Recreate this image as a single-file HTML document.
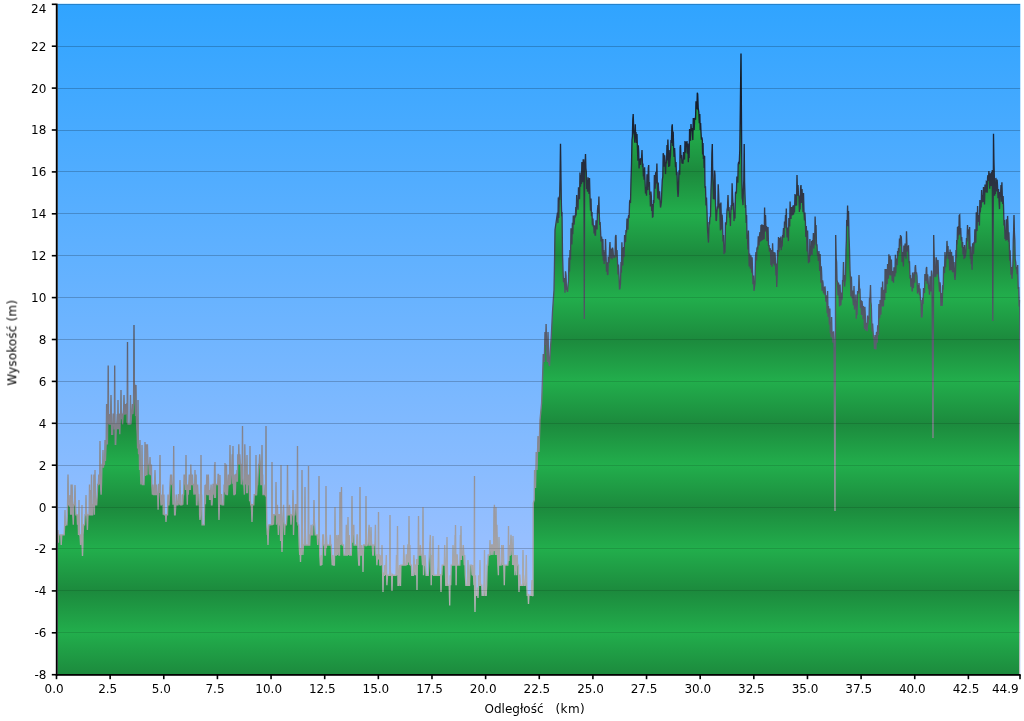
<!DOCTYPE html>
<html lang="pl">
<head>
<meta charset="utf-8">
<title>Profil wysokości</title>
<style>
html,body{margin:0;padding:0;background:#fff;}
body{width:1024px;height:721px;overflow:hidden;}
svg{display:block;}
.t{font-family:"DejaVu Sans","Liberation Sans",sans-serif;font-size:12px;fill:#000;}
</style>
</head>
<body>
<svg width="1024" height="721" viewBox="0 0 1024 721">
<defs>
<linearGradient id="sky" gradientUnits="userSpaceOnUse" x1="0" y1="4" x2="0" y2="675">
<stop offset="0" stop-color="#30a4ff"/><stop offset="1" stop-color="#b0c6ff"/></linearGradient>
<linearGradient id="grn" gradientUnits="userSpaceOnUse" x1="0" y1="507.10" x2="0" y2="465.20" spreadMethod="reflect">
<stop offset="0" stop-color="#1c8a3d"/><stop offset="1" stop-color="#22ae4c"/></linearGradient>
<linearGradient id="ln" gradientUnits="userSpaceOnUse" x1="0" y1="4" x2="0" y2="675">
<stop offset="0" stop-color="#06101c"/><stop offset="0.2" stop-color="#1c2434"/><stop offset="0.38" stop-color="#444a58"/><stop offset="0.515" stop-color="#5c6070"/><stop offset="0.65" stop-color="#86868f"/><stop offset="0.74" stop-color="#99979d"/><stop offset="1" stop-color="#c2c2c2"/></linearGradient>
<clipPath id="cp"><rect x="57.6" y="3.8" width="962.7" height="670.8"/></clipPath>
</defs>
<rect x="0" y="0" width="1024" height="721" fill="#fff"/>
<rect x="57.6" y="3.8" width="962.7" height="670.8" fill="url(#sky)"/>
<g clip-path="url(#cp)">
<rect x="57.6" y="632" width="962.7" height="1" fill="#000" fill-opacity="0.09"/>
<rect x="57.6" y="590" width="962.7" height="1" fill="#000" fill-opacity="0.09"/>
<rect x="57.6" y="548" width="962.7" height="1" fill="#000" fill-opacity="0.09"/>
<rect x="57.6" y="507" width="962.7" height="1" fill="#000" fill-opacity="0.09"/>
<rect x="57.6" y="465" width="962.7" height="1" fill="#000" fill-opacity="0.09"/>
<rect x="57.6" y="423" width="962.7" height="1" fill="#000" fill-opacity="0.09"/>
<rect x="57.6" y="381" width="962.7" height="1" fill="#000" fill-opacity="0.09"/>
<rect x="57.6" y="339" width="962.7" height="1" fill="#000" fill-opacity="0.09"/>
<rect x="57.6" y="297" width="962.7" height="1" fill="#000" fill-opacity="0.09"/>
<rect x="57.6" y="255" width="962.7" height="1" fill="#000" fill-opacity="0.09"/>
<rect x="57.6" y="213" width="962.7" height="1" fill="#000" fill-opacity="0.09"/>
<rect x="57.6" y="171" width="962.7" height="1" fill="#000" fill-opacity="0.09"/>
<rect x="57.6" y="130" width="962.7" height="1" fill="#000" fill-opacity="0.09"/>
<rect x="57.6" y="88" width="962.7" height="1" fill="#000" fill-opacity="0.09"/>
<rect x="57.6" y="46" width="962.7" height="1" fill="#000" fill-opacity="0.09"/>
<rect x="57.6" y="4" width="962.7" height="1" fill="#000" fill-opacity="0.09"/>
<path d="M57.6 674.6 L57.6 542.8 L58.0 530.0 L58.4 542.8 L58.7 534.9 L59.1 534.9 L59.5 534.9 L60.1 534.9 L60.8 534.9 L61.2 545.0 L61.8 534.9 L62.3 534.9 L62.7 534.9 L63.2 534.9 L63.6 534.9 L64.2 534.9 L64.6 526.0 L65.0 510.0 L65.4 526.0 L65.4 524.8 L65.8 524.8 L66.3 524.8 L66.9 524.8 L67.4 514.7 L68.0 474.5 L68.5 504.7 L69.1 504.7 L69.5 504.7 L69.6 506.7 L70.0 495.0 L70.4 506.7 L70.6 514.8 L71.1 484.5 L71.7 514.8 L72.1 484.5 L72.8 514.8 L73.3 524.8 L73.8 504.7 L74.2 504.7 L74.6 501.0 L75.0 485.0 L75.4 501.0 L75.9 514.8 L76.5 514.8 L77.0 514.7 L77.5 524.8 L78.0 514.7 L78.5 534.9 L78.6 529.0 L79.0 500.0 L79.4 529.0 L79.6 534.9 L80.0 534.9 L80.6 545.0 L81.0 534.9 L81.5 534.9 L81.6 539.3 L82.0 505.0 L82.1 545.0 L82.5 556.0 L82.9 545.0 L83.0 534.9 L83.6 524.8 L84.1 524.8 L84.5 524.8 L85.1 514.7 L85.6 514.7 L85.6 511.0 L86.0 495.0 L86.4 511.0 L86.8 514.8 L87.4 529.9 L88.0 514.8 L88.6 514.8 L89.1 514.8 L89.5 484.5 L89.6 509.2 L90.0 490.0 L90.4 509.2 L90.5 514.8 L91.0 514.8 L91.5 474.5 L92.1 514.8 L92.6 514.8 L93.0 504.7 L93.5 504.7 L93.9 474.5 L94.4 514.8 L94.6 493.0 L95.0 470.0 L95.4 493.0 L95.7 504.7 L96.2 504.7 L96.7 504.7 L97.3 494.6 L97.7 484.5 L98.3 484.5 L98.8 474.5 L99.3 484.5 L99.6 478.0 L100.0 441.0 L100.4 478.0 L100.5 484.5 L101.1 494.6 L101.5 484.5 L102.0 464.4 L102.5 464.4 L102.6 467.8 L103.0 450.0 L103.4 467.8 L103.7 464.4 L104.4 464.4 L104.6 461.0 L105.0 440.0 L105.4 461.0 L105.7 454.3 L106.1 444.3 L106.6 404.0 L106.6 444.6 L107.0 420.0 L107.4 444.6 L107.7 424.1 L107.8 420.0 L108.2 365.5 L108.6 420.0 L108.7 424.1 L109.2 414.1 L109.8 424.1 L110.2 424.1 L110.6 414.3 L111.0 395.0 L111.4 414.3 L111.7 434.2 L112.2 434.2 L112.6 434.2 L113.2 414.1 L113.6 414.1 L114.2 424.1 L114.3 429.5 L114.7 365.5 L115.1 429.5 L115.3 444.3 L115.7 444.3 L116.4 424.1 L116.8 424.1 L117.3 414.1 L117.6 429.3 L118.0 400.0 L118.4 429.3 L118.7 414.1 L119.2 414.1 L119.8 434.2 L120.3 414.1 L120.6 419.3 L121.0 390.0 L121.4 419.3 L121.7 414.1 L122.1 414.1 L122.6 424.1 L123.2 414.0 L123.6 409.3 L124.0 395.0 L124.4 409.3 L124.5 414.0 L125.0 414.0 L125.5 404.0 L126.0 414.1 L126.6 404.0 L127.0 404.0 L127.1 422.7 L127.5 342.0 L127.9 422.7 L128.1 424.1 L128.5 424.1 L129.0 424.1 L129.4 424.1 L129.9 424.1 L130.1 417.7 L130.5 395.0 L130.9 417.7 L130.9 424.1 L131.5 414.1 L131.9 414.0 L132.5 404.0 L132.9 414.0 L133.5 404.0 L133.6 396.0 L134.0 325.0 L134.4 396.0 L134.6 383.8 L135.2 404.0 L135.6 414.1 L135.6 416.0 L136.0 385.0 L136.4 416.0 L136.6 424.1 L137.2 434.2 L137.6 448.4 L138.0 400.0 L138.4 448.4 L138.6 454.3 L139.2 444.3 L139.6 470.1 L140.0 440.0 L140.4 470.1 L140.9 484.5 L141.4 474.5 L141.6 479.8 L142.0 445.0 L142.4 479.8 L142.4 484.5 L142.8 484.5 L143.4 484.5 L144.0 484.5 L144.6 464.4 L144.6 476.0 L145.0 442.0 L145.4 476.0 L145.6 474.5 L146.0 444.3 L146.5 474.5 L147.0 474.5 L147.4 444.3 L148.1 464.4 L148.5 464.4 L148.9 464.4 L149.4 474.5 L149.6 468.0 L150.0 457.0 L150.4 468.0 L150.4 474.5 L150.9 474.5 L151.4 464.4 L151.8 484.5 L152.4 494.6 L152.9 484.5 L153.5 494.6 L154.0 494.6 L154.5 494.6 L154.6 481.0 L155.0 470.0 L155.4 481.0 L155.5 494.6 L156.1 494.6 L156.6 484.5 L157.2 494.6 L157.7 494.6 L158.1 509.7 L158.8 484.5 L159.3 484.5 L159.6 493.0 L160.0 455.0 L160.4 493.0 L160.4 494.6 L161.0 504.7 L161.4 504.7 L161.9 494.6 L162.4 504.7 L162.9 484.5 L163.3 514.8 L163.9 494.6 L164.5 514.8 L165.1 514.8 L165.6 515.0 L166.0 522.0 L166.4 515.0 L166.5 514.8 L166.9 514.8 L167.5 514.8 L168.0 494.6 L168.4 504.7 L168.9 504.7 L169.5 494.6 L170.0 484.5 L170.6 474.5 L171.1 484.5 L171.5 474.5 L171.9 484.5 L172.5 484.5 L173.0 504.7 L173.3 492.2 L173.7 446.0 L174.1 492.2 L174.2 494.6 L174.6 514.8 L175.2 514.8 L175.8 504.7 L176.3 494.6 L176.9 504.7 L177.4 504.7 L177.9 504.7 L178.4 494.6 L178.9 494.6 L179.5 504.7 L179.6 495.6 L180.0 480.0 L180.4 495.6 L180.4 504.7 L181.0 504.7 L181.4 504.7 L181.9 504.7 L182.3 494.6 L182.8 504.7 L183.2 494.6 L183.6 494.6 L184.1 474.5 L184.7 484.5 L185.2 474.5 L185.6 490.0 L186.0 455.0 L186.4 490.0 L186.7 484.5 L187.3 504.7 L187.8 484.5 L188.2 494.6 L188.8 484.5 L189.3 474.5 L189.6 490.0 L190.0 478.0 L190.4 490.0 L190.8 464.4 L191.4 484.5 L191.9 484.5 L192.4 474.5 L192.8 484.5 L193.4 484.5 L194.0 494.6 L194.5 484.5 L194.6 490.0 L195.0 470.0 L195.4 490.0 L195.5 494.6 L196.1 474.5 L196.5 504.7 L197.0 504.7 L197.6 484.5 L198.1 494.6 L198.7 494.6 L199.1 504.7 L199.5 504.7 L199.6 515.0 L200.0 520.0 L200.4 515.0 L200.6 484.5 L200.6 509.7 L201.0 455.0 L201.4 509.7 L201.6 494.6 L202.1 524.8 L202.7 524.8 L203.2 524.8 L203.7 524.8 L204.2 524.8 L204.6 504.3 L205.0 485.0 L205.4 504.3 L205.6 484.5 L206.2 494.6 L206.8 474.5 L207.4 494.6 L207.8 494.6 L208.3 474.5 L208.9 494.6 L209.5 494.6 L209.6 500.0 L210.0 490.0 L210.4 500.0 L210.5 494.6 L211.1 484.5 L211.5 504.7 L212.0 504.7 L212.6 494.6 L213.0 484.5 L213.5 484.5 L214.1 494.6 L214.6 464.4 L214.6 498.0 L215.0 462.0 L215.4 498.0 L215.6 484.5 L216.1 484.5 L216.6 484.5 L217.2 484.5 L217.7 484.5 L218.1 474.5 L218.5 474.5 L218.6 503.6 L219.0 520.0 L219.4 503.6 L219.5 484.5 L219.6 500.0 L220.0 475.0 L220.4 500.0 L220.7 504.7 L221.2 494.6 L221.6 494.6 L222.1 504.7 L222.6 504.7 L223.1 504.7 L223.6 504.7 L224.1 484.5 L224.6 491.7 L225.0 463.0 L225.4 491.7 L225.9 494.6 L226.4 464.4 L227.0 494.6 L227.4 494.6 L228.0 484.5 L228.4 474.5 L229.0 484.5 L229.4 484.5 L229.6 473.0 L230.0 445.0 L230.4 473.0 L230.5 484.5 L231.1 474.5 L231.6 474.5 L232.2 454.3 L232.6 483.8 L233.0 446.0 L233.4 483.8 L233.9 494.6 L234.4 494.6 L234.8 474.5 L235.3 494.6 L235.9 474.5 L236.3 474.5 L236.6 481.8 L237.0 470.0 L237.4 481.8 L237.8 454.3 L238.4 464.4 L238.8 444.3 L239.3 464.4 L239.8 454.3 L240.3 464.4 L240.8 464.4 L241.3 484.5 L241.8 474.5 L242.1 478.0 L242.5 426.0 L242.9 478.0 L243.3 484.5 L243.9 484.5 L244.4 494.6 L244.8 444.3 L245.4 474.5 L245.8 484.5 L246.3 464.4 L246.6 493.3 L247.0 455.0 L247.4 493.3 L247.9 474.5 L248.3 484.5 L248.9 484.5 L249.3 474.5 L249.6 501.3 L250.0 446.0 L250.4 501.3 L250.8 504.7 L251.3 504.7 L251.6 510.7 L252.0 522.0 L252.4 510.7 L252.4 504.7 L252.8 504.7 L253.3 504.7 L253.8 504.7 L254.2 494.6 L254.6 494.6 L255.0 494.6 L255.4 494.6 L255.6 495.4 L256.0 455.0 L256.4 495.4 L256.6 494.6 L257.2 484.5 L257.6 484.5 L258.1 474.5 L258.7 464.4 L259.2 464.4 L259.7 454.3 L260.3 464.4 L260.9 484.5 L261.5 484.5 L261.6 482.8 L262.0 445.0 L262.4 482.8 L262.6 474.5 L263.0 494.6 L263.5 494.6 L264.1 494.6 L264.6 494.6 L265.1 484.5 L265.6 496.5 L266.0 426.0 L266.4 496.5 L266.8 524.8 L267.3 534.9 L267.6 532.4 L268.0 545.0 L268.4 532.4 L268.9 524.8 L269.4 524.8 L270.0 524.8 L270.6 524.8 L271.1 524.8 L271.5 524.8 L271.6 525.2 L272.0 462.0 L272.4 525.2 L272.6 514.7 L273.1 514.7 L273.6 524.8 L274.0 514.7 L274.6 514.8 L275.0 514.8 L275.5 514.8 L275.6 513.5 L276.0 482.0 L276.4 513.5 L276.4 524.8 L277.0 514.7 L277.4 504.7 L278.0 524.8 L278.4 534.9 L279.0 514.7 L279.5 514.7 L280.0 524.8 L280.4 524.8 L280.6 541.0 L281.0 465.0 L281.4 541.0 L281.5 524.8 L281.6 539.9 L282.0 552.0 L282.4 539.9 L282.5 524.8 L283.0 514.7 L283.6 504.7 L284.1 524.8 L284.6 534.9 L285.0 524.8 L285.5 524.8 L285.9 524.8 L286.4 524.8 L287.0 514.8 L287.1 508.0 L287.5 465.0 L287.9 508.0 L288.0 514.8 L288.5 514.8 L288.9 514.8 L289.5 504.7 L290.0 514.8 L290.6 514.8 L291.0 524.8 L291.6 514.8 L292.1 514.8 L292.5 514.8 L292.6 510.5 L293.0 490.0 L293.4 510.5 L293.5 534.9 L294.1 514.8 L294.5 514.8 L294.9 514.8 L295.4 504.7 L295.9 504.7 L296.4 504.7 L296.9 514.7 L297.1 522.2 L297.5 446.0 L297.9 522.2 L298.0 524.8 L298.6 524.8 L299.2 545.0 L299.7 555.0 L300.1 547.9 L300.5 562.0 L300.9 547.9 L301.3 555.0 L301.6 537.4 L302.0 470.0 L302.4 537.4 L302.9 555.0 L303.4 545.0 L304.0 545.0 L304.4 545.0 L304.6 533.1 L305.0 487.0 L305.4 533.1 L305.8 545.0 L306.4 545.0 L306.9 545.0 L307.5 545.0 L308.1 545.0 L308.1 538.0 L308.5 466.0 L308.9 538.0 L309.1 545.0 L309.7 545.0 L310.1 534.9 L310.7 534.9 L311.1 524.8 L311.7 534.9 L312.1 534.9 L312.6 534.9 L313.0 524.8 L313.6 524.8 L313.6 521.6 L314.0 500.0 L314.4 521.6 L314.7 524.8 L315.2 534.9 L315.8 534.9 L316.3 534.9 L316.7 534.9 L317.2 534.9 L317.7 545.0 L318.1 534.9 L318.6 538.5 L319.0 476.0 L319.4 538.5 L319.8 555.0 L320.4 565.1 L320.9 565.1 L321.5 555.0 L321.9 565.1 L322.4 545.0 L322.8 534.9 L323.4 534.9 L323.9 545.0 L324.4 545.0 L324.9 555.0 L325.4 555.0 L325.6 548.2 L326.0 486.0 L326.4 548.2 L326.4 534.9 L327.0 545.0 L327.6 545.0 L328.0 545.0 L328.6 545.0 L329.2 545.0 L329.7 545.0 L330.2 534.9 L330.7 545.0 L331.2 545.0 L331.7 555.0 L332.2 565.1 L332.8 555.0 L333.3 565.1 L333.9 565.1 L334.4 565.1 L334.6 552.8 L335.0 507.0 L335.4 552.8 L335.5 545.0 L335.9 555.0 L336.4 555.0 L336.8 534.9 L337.4 555.0 L338.0 545.0 L338.5 534.9 L339.0 555.0 L339.5 555.0 L339.6 542.1 L340.0 492.0 L340.4 542.1 L340.6 545.0 L341.1 540.6 L341.5 487.0 L341.9 540.6 L342.3 545.0 L342.9 545.0 L343.5 545.0 L344.0 555.0 L344.4 555.0 L344.8 555.0 L345.3 555.0 L345.7 555.0 L346.3 524.8 L346.9 555.0 L347.4 555.0 L347.6 544.9 L348.0 517.0 L348.4 544.9 L348.8 555.0 L349.2 534.9 L349.7 555.0 L350.2 555.0 L350.7 555.0 L351.3 555.0 L351.6 542.7 L352.0 496.0 L352.4 542.7 L352.8 524.8 L353.3 534.9 L353.8 524.8 L354.2 545.0 L354.8 545.0 L355.5 545.0 L356.0 545.0 L356.6 545.0 L357.0 534.9 L357.4 534.9 L357.8 545.0 L358.2 555.0 L358.8 565.1 L359.4 565.1 L359.6 548.2 L360.0 487.0 L360.4 548.2 L360.8 555.0 L361.3 555.0 L361.8 545.0 L362.4 555.0 L362.6 552.8 L363.0 572.0 L363.4 552.8 L363.7 545.0 L364.3 545.0 L364.7 545.0 L365.4 545.0 L365.6 545.5 L366.0 496.0 L366.4 545.5 L366.9 545.0 L367.5 545.0 L368.0 545.0 L368.5 534.9 L369.1 524.8 L369.6 545.0 L370.2 545.0 L370.6 540.0 L371.0 527.0 L371.4 540.0 L371.7 545.0 L372.2 545.0 L372.8 555.0 L373.3 555.0 L373.9 545.0 L374.3 545.0 L374.9 545.0 L375.4 524.8 L375.9 555.0 L376.5 555.0 L376.9 565.1 L377.5 555.0 L378.0 555.0 L378.1 559.5 L378.5 512.0 L378.9 559.5 L378.9 555.0 L379.4 555.0 L379.9 565.1 L380.5 565.1 L381.0 555.0 L381.6 565.1 L382.0 545.0 L382.5 565.1 L382.6 572.6 L383.0 592.0 L383.4 572.6 L383.5 575.2 L383.9 575.2 L384.4 575.2 L384.8 565.1 L385.4 575.2 L385.9 565.1 L386.3 555.0 L386.9 585.2 L387.5 575.2 L388.0 575.2 L388.4 575.2 L388.9 575.2 L389.4 575.2 L389.6 570.7 L390.0 515.0 L390.4 570.7 L390.8 575.2 L391.4 575.2 L391.6 574.7 L392.0 591.0 L392.4 574.7 L392.8 575.2 L393.2 575.2 L393.7 575.2 L394.3 575.2 L394.8 575.2 L395.4 575.2 L396.0 575.2 L396.5 555.0 L397.0 575.2 L397.1 569.0 L397.5 526.0 L397.9 569.0 L398.0 585.2 L398.4 585.2 L399.0 575.2 L399.6 565.1 L400.0 585.2 L400.5 585.2 L400.9 565.1 L401.4 565.1 L401.8 565.1 L402.3 565.1 L402.8 565.1 L403.4 565.1 L403.8 545.0 L404.4 565.1 L404.9 565.1 L405.5 565.1 L405.9 565.1 L406.3 555.0 L406.8 555.0 L407.3 565.1 L407.9 545.0 L408.3 545.0 L408.6 562.4 L409.0 516.0 L409.4 562.4 L409.5 565.1 L409.9 545.0 L410.4 565.1 L410.8 565.1 L411.4 565.1 L411.8 575.2 L412.4 575.2 L412.8 575.2 L413.3 575.2 L413.9 555.0 L414.4 565.1 L415.0 575.2 L415.5 565.1 L416.0 565.1 L416.4 575.2 L416.6 559.0 L417.0 590.0 L417.4 559.0 L417.9 565.1 L418.1 553.5 L418.5 516.0 L418.9 553.5 L419.0 555.0 L419.5 555.0 L420.0 555.0 L420.4 545.0 L421.0 555.0 L421.4 555.0 L421.9 555.0 L422.5 565.1 L422.6 557.8 L423.0 507.0 L423.4 557.8 L423.5 575.2 L424.0 565.1 L424.6 565.1 L425.0 555.0 L425.6 565.1 L426.1 575.2 L426.6 575.2 L427.1 575.2 L427.7 575.2 L428.2 575.2 L428.7 565.1 L429.3 555.0 L429.8 545.0 L430.3 534.9 L430.8 555.0 L431.2 585.2 L431.6 555.0 L432.2 565.1 L432.6 575.2 L432.6 564.4 L433.0 536.0 L433.4 564.4 L433.7 575.2 L434.2 575.2 L434.7 575.2 L435.1 575.2 L435.6 575.2 L436.0 575.2 L436.5 575.2 L437.0 575.2 L437.6 575.2 L438.1 565.1 L438.6 545.0 L439.0 575.2 L439.6 575.2 L440.1 575.2 L440.6 574.5 L441.0 592.0 L441.4 574.5 L441.8 575.2 L442.2 565.1 L442.8 565.1 L443.4 565.1 L443.8 565.1 L444.3 565.1 L444.7 545.0 L445.3 565.1 L445.8 585.2 L446.3 585.2 L446.6 568.7 L447.0 537.0 L447.4 568.7 L447.8 585.2 L448.3 585.2 L448.8 585.2 L449.2 585.2 L449.7 605.4 L450.1 575.2 L450.7 585.2 L451.2 565.1 L451.7 565.1 L452.1 565.1 L452.6 565.1 L453.0 545.0 L453.6 565.1 L454.0 565.1 L454.6 565.1 L455.1 534.9 L455.1 560.0 L455.5 525.0 L455.9 560.0 L456.1 585.2 L456.6 555.0 L457.2 555.0 L457.7 565.1 L458.2 565.1 L458.6 565.1 L459.2 565.1 L459.8 565.1 L460.4 534.9 L460.6 560.0 L461.0 526.0 L461.4 560.0 L461.4 545.0 L461.8 555.0 L462.4 555.0 L462.9 555.0 L463.3 545.0 L463.8 555.0 L464.3 565.1 L464.7 555.0 L465.3 575.2 L465.9 585.2 L466.3 585.2 L466.9 585.2 L467.5 585.2 L467.6 577.0 L468.0 560.0 L468.4 577.0 L468.5 585.2 L468.9 585.2 L469.5 585.2 L470.1 565.1 L470.5 565.1 L471.1 565.1 L471.6 565.1 L472.1 575.2 L472.6 565.1 L473.0 575.2 L473.5 575.2 L474.0 585.2 L474.1 584.1 L474.5 476.0 L474.6 590.0 L475.0 612.0 L475.4 590.0 L475.5 575.2 L476.0 595.3 L476.5 595.3 L477.0 595.3 L477.5 595.3 L477.6 587.5 L478.0 598.0 L478.4 587.5 L478.6 575.2 L479.1 585.2 L479.6 585.2 L479.6 581.8 L480.0 560.0 L480.4 581.8 L480.7 585.2 L481.2 585.2 L481.7 585.2 L482.1 595.3 L482.6 595.3 L483.1 595.3 L483.7 595.3 L484.1 577.5 L484.5 550.0 L484.9 577.5 L485.3 595.3 L485.7 595.3 L486.2 595.3 L486.7 585.2 L487.2 565.1 L487.7 565.1 L488.2 555.0 L488.6 555.0 L489.1 555.0 L489.6 555.0 L489.6 551.0 L490.0 540.0 L490.4 551.0 L490.7 545.0 L491.2 555.0 L491.7 545.0 L492.3 545.0 L492.9 555.0 L493.5 545.0 L493.6 551.0 L494.0 507.0 L494.4 551.0 L494.4 504.7 L494.9 545.0 L495.4 555.0 L495.6 551.0 L496.0 507.0 L496.4 551.0 L496.4 555.0 L496.9 524.8 L497.5 555.0 L497.9 565.1 L498.4 575.2 L498.6 556.0 L499.0 537.0 L499.4 556.0 L499.5 565.1 L500.1 565.1 L500.6 565.1 L501.1 565.1 L501.7 545.0 L502.3 555.0 L502.7 565.1 L503.3 545.0 L503.8 565.1 L504.3 585.2 L504.8 565.1 L505.2 565.1 L505.7 565.1 L506.2 565.1 L506.7 565.1 L507.3 565.1 L507.8 565.1 L508.1 561.0 L508.5 526.0 L508.9 561.0 L509.2 545.0 L509.7 555.0 L510.2 555.0 L510.6 545.0 L511.0 534.9 L511.5 545.0 L512.0 555.0 L512.5 545.0 L512.6 565.0 L513.0 536.0 L513.4 565.0 L513.6 555.0 L514.0 565.1 L514.4 555.0 L514.9 575.2 L515.5 555.0 L516.1 565.1 L516.7 575.2 L517.1 555.0 L517.6 565.1 L518.1 565.1 L518.5 565.1 L518.6 577.0 L519.0 592.0 L519.4 577.0 L519.4 575.2 L519.9 575.2 L520.5 585.2 L521.0 585.2 L521.5 585.2 L522.1 585.2 L522.6 585.2 L522.6 575.7 L523.0 550.0 L523.4 575.7 L523.6 575.2 L524.1 585.2 L524.7 585.2 L525.2 585.2 L525.8 575.2 L526.3 555.0 L526.8 585.2 L527.2 595.3 L527.8 595.3 L528.1 595.0 L528.5 604.0 L528.9 595.0 L529.2 595.3 L529.7 595.3 L530.3 595.3 L530.8 595.3 L531.3 595.3 L531.6 590.0 L532.0 580.0 L532.4 590.0 L532.5 595.3 L533.0 596.0 L533.3 503.0 L534.2 500.0 L534.6 470.0 L535.5 488.0 L536.2 452.0 L537.0 470.0 L538.0 436.0 L539.0 452.0 L540.0 420.0 L541.6 403.0 L542.4 382.0 L543.3 354.0 L544.3 362.0 L545.0 332.0 L545.6 345.0 L546.1 324.0 L546.7 350.0 L547.4 362.0 L548.0 332.0 L548.7 362.0 L549.5 366.0 L550.3 350.0 L551.3 336.0 L552.5 312.0 L554.0 290.0 L554.4 270.0 L555.0 230.0 L557.5 212.5 L557.9 223.1 L558.3 197.4 L558.8 218.1 L559.2 196.5 L559.6 200.0 L560.0 179.9 L560.5 143.7 L561.4 205.0 L561.7 216.6 L562.0 212.0 L562.5 254.1 L563.0 270.0 L563.5 282.1 L564.0 278.0 L564.5 282.0 L565.0 292.8 L565.5 271.3 L566.0 275.0 L566.5 290.1 L567.0 289.0 L567.5 292.0 L568.0 285.0 L568.5 281.3 L569.0 257.4 L569.5 271.8 L570.0 250.0 L570.5 259.8 L571.0 228.2 L571.5 240.0 L571.9 244.5 L572.4 222.7 L572.8 234.2 L573.3 215.5 L573.7 222.0 L574.1 224.7 L574.6 217.3 L575.0 215.0 L575.4 217.5 L575.8 207.0 L576.2 215.6 L576.7 194.9 L577.1 207.5 L577.5 200.0 L578.0 209.8 L578.5 187.3 L579.0 190.0 L579.5 199.3 L580.0 172.4 L580.5 186.8 L581.0 175.0 L581.4 184.1 L581.9 161.9 L582.3 178.0 L582.8 182.1 L583.2 160.0 L583.7 160.0 L584.0 166.0 L584.3 319.0 L584.6 170.0 L585.0 167.0 L585.5 154.0 L585.9 168.0 L586.3 172.0 L586.6 189.1 L587.0 180.0 L587.5 191.7 L588.0 177.3 L588.5 185.0 L589.0 194.0 L589.5 177.9 L590.0 197.0 L590.5 210.8 L591.0 198.5 L591.5 216.3 L592.0 212.0 L592.4 225.3 L592.9 218.5 L593.3 226.8 L593.7 225.0 L594.1 233.4 L594.6 225.6 L595.0 235.0 L595.5 235.7 L596.0 220.3 L596.5 222.0 L597.0 229.4 L597.5 210.7 L598.0 205.0 L598.4 213.4 L598.9 196.6 L599.3 215.0 L599.7 225.0 L600.1 222.0 L600.5 230.0 L601.0 241.4 L601.5 236.7 L602.0 240.0 L602.4 255.6 L602.9 239.0 L603.3 260.6 L603.7 250.0 L604.2 264.1 L604.6 252.0 L605.1 261.1 L605.5 238.9 L606.0 255.0 L606.5 271.7 L607.0 262.3 L607.5 275.0 L607.9 274.4 L608.3 257.6 L608.7 258.0 L609.1 262.7 L609.6 247.3 L610.0 242.0 L610.5 258.4 L611.0 248.7 L611.5 252.0 L612.0 259.4 L612.5 247.6 L613.0 250.0 L613.5 257.7 L614.0 255.3 L614.5 258.0 L615.0 255.4 L615.5 236.6 L616.0 235.0 L616.5 257.1 L617.0 250.0 L617.5 262.0 L618.0 274.4 L618.5 264.6 L619.0 275.0 L619.5 289.6 L620.0 288.0 L620.5 283.1 L621.0 262.0 L621.4 272.8 L621.9 242.2 L622.3 255.0 L622.8 265.4 L623.2 249.7 L623.7 247.0 L624.1 257.1 L624.6 235.0 L625.0 238.0 L625.5 242.1 L626.0 230.0 L626.5 232.4 L627.0 218.6 L627.5 222.0 L627.9 229.7 L628.3 217.3 L628.7 215.0 L629.1 218.1 L629.6 202.0 L630.0 200.0 L630.5 203.1 L631.0 180.0 L631.5 165.0 L632.0 140.0 L632.4 136.4 L632.8 119.6 L633.2 114.0 L633.8 132.6 L634.3 135.0 L634.8 142.7 L635.3 124.3 L635.6 138.2 L636.0 132.0 L636.5 143.0 L637.0 133.9 L637.5 150.0 L637.9 160.7 L638.3 145.3 L638.7 152.0 L639.1 168.4 L639.6 158.7 L640.0 162.0 L640.5 165.0 L641.0 158.0 L641.5 159.0 L642.0 150.0 L642.5 165.6 L643.0 165.0 L643.4 176.6 L643.7 172.0 L644.1 179.7 L644.6 167.3 L645.0 180.0 L645.5 193.6 L646.0 187.0 L646.5 195.7 L647.0 174.3 L647.5 183.0 L647.9 190.1 L648.3 168.0 L648.7 165.0 L649.0 186.6 L649.4 182.0 L649.7 195.1 L650.0 192.0 L650.4 206.4 L650.9 191.6 L651.3 196.0 L651.7 211.1 L652.1 204.0 L652.5 217.0 L653.0 216.6 L653.5 200.0 L653.9 203.1 L654.4 174.9 L654.8 185.0 L655.2 188.7 L655.6 173.3 L656.0 172.0 L656.4 183.4 L656.9 163.6 L657.3 182.0 L657.8 198.4 L658.2 182.6 L658.7 192.0 L659.1 199.7 L659.6 191.3 L660.0 200.0 L660.5 207.5 L661.0 205.0 L661.4 201.7 L661.9 188.3 L662.3 180.0 L662.8 176.7 L663.2 153.3 L663.7 155.0 L664.1 166.7 L664.6 155.3 L665.0 160.0 L665.5 174.1 L666.0 162.0 L666.5 163.6 L667.0 145.0 L667.4 160.4 L667.9 139.6 L668.3 152.0 L668.7 167.1 L669.1 150.0 L669.6 166.1 L670.0 160.0 L670.5 155.0 L671.0 140.0 L671.4 142.8 L671.9 126.5 L672.3 124.3 L672.8 146.0 L673.2 131.4 L673.7 150.0 L674.1 157.0 L674.6 148.0 L675.0 156.0 L675.5 167.1 L676.0 162.0 L676.5 175.1 L677.0 172.0 L677.5 189.5 L678.0 197.0 L678.4 193.0 L678.9 173.0 L679.3 170.0 L679.7 174.8 L680.1 147.3 L680.5 145.0 L681.0 158.1 L681.5 155.0 L682.0 163.5 L682.5 162.0 L683.0 163.7 L683.5 152.3 L684.0 152.0 L684.5 159.6 L685.0 141.0 L685.5 152.6 L686.0 142.0 L686.5 146.5 L687.0 141.0 L687.4 153.8 L687.9 143.5 L688.3 162.3 L688.7 152.0 L689.1 158.1 L689.6 128.9 L690.0 140.0 L690.5 140.1 L691.0 124.0 L691.4 131.0 L691.9 128.0 L692.3 130.0 L692.8 140.1 L693.3 118.0 L693.8 121.0 L694.2 130.1 L694.6 119.0 L695.0 118.0 L695.5 119.7 L696.0 101.3 L696.5 108.0 L696.9 108.4 L697.3 92.8 L697.7 94.2 L698.2 108.1 L698.8 112.0 L699.3 123.1 L699.8 114.0 L700.2 130.1 L700.6 123.0 L701.0 132.0 L701.4 139.7 L701.9 137.3 L702.3 140.0 L702.6 154.6 L703.0 143.0 L703.4 159.1 L703.7 155.0 L704.2 168.0 L704.6 155.9 L705.0 187.1 L705.5 187.0 L706.0 205.4 L706.5 197.6 L707.0 212.0 L707.5 229.5 L708.0 237.0 L708.5 242.6 L709.0 222.0 L709.5 224.5 L710.0 217.0 L710.5 216.6 L711.0 190.0 L711.4 179.7 L711.9 153.3 L712.3 144.0 L712.6 167.0 L713.0 180.0 L713.4 199.1 L713.7 192.0 L714.1 199.4 L714.6 170.6 L715.0 175.0 L715.5 202.5 L716.0 220.0 L716.4 221.0 L716.9 212.0 L717.3 208.0 L717.8 208.7 L718.2 184.2 L718.7 195.0 L719.1 207.4 L719.6 203.6 L720.0 217.0 L720.4 230.4 L720.9 202.6 L721.3 218.0 L721.7 229.4 L722.1 214.6 L722.5 222.0 L723.0 241.6 L723.5 235.0 L724.0 254.1 L724.5 247.0 L725.0 252.8 L725.5 222.3 L726.0 225.0 L726.5 222.5 L727.0 210.0 L727.5 207.5 L728.0 195.0 L728.5 211.1 L729.0 207.0 L729.5 217.0 L730.0 217.0 L730.4 226.1 L730.9 209.0 L731.3 205.0 L731.7 209.7 L732.1 183.2 L732.5 195.0 L733.0 204.5 L733.5 204.0 L734.0 221.1 L734.5 212.0 L735.0 218.4 L735.5 192.6 L736.0 192.0 L736.4 192.4 L736.9 176.6 L737.3 178.0 L737.8 182.7 L738.2 164.3 L738.7 162.0 L739.2 164.1 L739.8 150.0 L741.0 53.4 L741.9 180.0 L742.2 198.1 L742.6 200.0 L743.0 205.1 L743.4 190.0 L743.8 180.1 L744.2 144.0 L744.6 182.6 L745.0 195.0 L745.4 208.1 L745.7 205.0 L746.2 223.1 L746.6 215.0 L747.0 239.1 L747.5 237.0 L747.9 249.4 L748.4 230.6 L748.8 250.0 L749.2 266.4 L749.6 253.6 L750.0 260.0 L750.4 268.7 L750.9 255.3 L751.3 262.0 L751.7 272.7 L752.1 257.3 L752.5 270.0 L753.0 284.3 L753.5 275.5 L754.0 290.8 L754.5 287.0 L755.0 283.4 L755.5 257.6 L756.0 252.0 L756.5 260.4 L756.9 248.7 L757.4 247.0 L757.8 249.7 L758.3 236.3 L758.7 240.0 L759.1 245.4 L759.6 234.7 L760.0 232.0 L760.5 241.6 L761.0 225.0 L761.5 240.8 L761.9 224.3 L762.4 233.0 L762.8 240.1 L763.3 225.0 L763.7 230.0 L764.2 239.3 L764.6 207.4 L765.0 231.8 L765.5 215.0 L766.0 230.6 L766.5 226.0 L767.0 241.1 L767.5 230.0 L768.0 227.0 L768.5 246.1 L769.0 245.0 L769.5 251.7 L770.0 248.3 L770.5 250.0 L770.9 265.1 L771.3 249.9 L771.7 265.0 L772.1 266.7 L772.6 243.2 L773.0 255.0 L773.5 263.6 L774.0 252.0 L774.5 265.4 L775.0 252.6 L775.5 262.0 L775.9 275.4 L776.3 263.6 L776.7 287.0 L777.2 276.6 L777.6 250.0 L778.0 256.6 L778.5 237.0 L779.0 252.1 L779.5 238.0 L780.0 243.0 L780.4 247.8 L780.9 236.5 L781.3 250.3 L781.7 242.0 L782.2 246.6 L782.6 235.0 L783.0 236.5 L783.5 228.0 L784.0 237.8 L784.5 221.5 L785.0 228.3 L785.5 215.0 L785.9 224.4 L786.3 208.6 L786.7 228.0 L787.1 237.4 L787.6 227.6 L788.0 232.0 L788.4 241.1 L788.9 218.0 L789.3 220.0 L789.7 226.4 L790.1 201.6 L790.5 215.0 L791.0 219.0 L791.5 207.0 L792.0 212.0 L792.5 215.3 L793.0 205.5 L793.5 214.8 L794.0 205.0 L794.5 212.6 L795.0 194.0 L795.5 205.6 L796.0 195.0 L796.5 205.6 L797.0 174.9 L797.5 195.6 L798.0 185.0 L798.5 195.5 L799.0 196.0 L799.4 212.1 L799.7 202.0 L800.1 209.4 L800.6 187.6 L801.0 185.0 L801.5 203.1 L802.0 189.0 L802.5 200.0 L803.0 212.1 L803.5 192.9 L804.0 212.0 L804.5 220.4 L804.9 212.6 L805.4 222.0 L805.8 237.1 L806.3 226.0 L806.7 237.0 L807.1 251.4 L807.6 230.6 L808.0 250.0 L808.5 263.1 L809.0 260.0 L809.5 262.0 L809.9 238.9 L810.3 256.0 L810.8 248.0 L811.2 254.1 L811.6 241.0 L812.1 255.1 L812.5 240.0 L813.0 244.5 L813.4 233.0 L813.8 248.6 L814.3 238.0 L814.7 244.8 L815.1 216.4 L815.6 233.3 L816.0 225.0 L816.5 245.1 L817.0 245.0 L817.5 255.0 L818.0 255.0 L818.4 261.0 L818.9 251.0 L819.3 258.0 L819.7 271.1 L820.1 253.9 L820.5 267.0 L820.9 282.8 L821.3 266.3 L821.7 275.0 L822.1 290.8 L822.6 280.3 L823.0 283.0 L823.5 293.1 L824.0 287.0 L824.5 294.7 L825.0 286.3 L825.5 295.0 L825.9 301.7 L826.3 295.3 L826.7 300.0 L827.2 313.1 L827.6 290.9 L828.1 317.1 L828.5 306.0 L829.0 315.0 L829.4 324.8 L829.9 308.4 L830.3 333.3 L830.7 322.0 L831.2 337.6 L831.6 316.9 L832.0 334.5 L832.5 332.0 L833.0 342.7 L833.5 331.3 L834.0 340.0 L835.0 511.0 L835.7 235.0 L836.2 258.6 L836.6 262.0 L837.0 280.1 L837.5 282.0 L838.0 295.4 L838.5 282.6 L839.0 292.0 L839.5 306.4 L840.0 284.6 L840.5 296.0 L840.9 305.4 L841.3 292.6 L841.7 300.0 L842.2 298.1 L842.6 280.0 L843.0 281.1 L843.5 262.0 L843.9 281.6 L844.3 275.0 L844.6 286.6 L845.0 282.0 L845.5 279.1 L846.0 250.0 L846.4 240.0 L846.7 220.0 L847.2 222.8 L847.6 205.4 L848.0 226.3 L848.5 211.0 L849.0 235.5 L849.5 250.0 L850.0 270.0 L850.5 280.0 L850.9 296.4 L851.4 276.6 L851.8 290.0 L852.2 298.4 L852.6 290.6 L853.0 300.0 L853.5 305.5 L854.0 285.9 L854.5 309.6 L855.0 302.0 L855.4 308.3 L855.9 294.4 L856.3 318.8 L856.7 307.0 L857.1 315.1 L857.6 291.0 L858.0 292.0 L858.5 293.6 L859.0 275.0 L859.5 290.6 L860.0 290.0 L860.5 308.1 L861.0 300.0 L861.5 315.1 L862.0 301.0 L862.5 306.0 L863.0 319.1 L863.5 306.0 L864.0 315.0 L864.5 329.1 L864.9 306.9 L865.4 318.0 L865.8 330.4 L866.3 322.7 L866.7 325.0 L867.2 331.3 L867.6 315.5 L868.0 324.8 L868.5 318.0 L869.0 319.8 L869.5 298.5 L870.0 298.3 L870.5 285.0 L870.9 301.7 L871.3 305.3 L871.7 320.0 L872.1 331.4 L872.6 323.6 L873.0 330.0 L873.5 338.5 L874.0 337.0 L874.5 349.1 L875.0 335.0 L875.5 343.0 L875.9 349.4 L876.4 332.6 L876.8 332.0 L877.2 342.8 L877.6 327.3 L878.0 325.0 L878.4 335.1 L878.9 303.9 L879.3 316.0 L879.7 318.0 L880.1 299.9 L880.5 307.0 L880.9 314.7 L881.4 287.2 L881.8 300.0 L882.2 306.4 L882.6 281.6 L883.0 295.0 L883.4 306.4 L883.9 291.7 L884.3 290.0 L884.7 300.1 L885.1 268.9 L885.5 281.0 L885.9 293.1 L886.4 268.9 L886.8 278.0 L887.2 284.1 L887.6 263.9 L888.0 272.0 L888.4 278.7 L888.9 254.2 L889.3 268.0 L889.7 275.1 L890.1 255.9 L890.5 265.0 L890.9 275.4 L891.4 259.6 L891.8 272.0 L892.2 281.1 L892.6 271.0 L893.0 275.0 L893.5 282.7 L894.0 267.3 L894.5 268.0 L894.9 276.5 L895.4 254.7 L895.8 273.3 L896.3 258.6 L896.7 260.0 L897.2 265.1 L897.6 251.0 L898.0 256.0 L898.5 248.0 L899.0 252.8 L899.5 238.5 L900.0 246.3 L900.5 235.0 L900.9 243.7 L901.3 236.3 L901.7 246.0 L902.1 262.1 L902.6 252.0 L903.0 255.0 L903.4 266.4 L903.9 245.6 L904.3 250.0 L904.7 256.4 L905.1 243.6 L905.5 245.0 L906.0 258.8 L906.5 231.2 L907.0 247.0 L907.5 251.7 L908.0 246.3 L908.5 246.0 L909.0 262.1 L909.5 262.0 L910.0 278.6 L910.5 275.0 L910.9 286.7 L911.4 278.3 L911.8 280.0 L912.2 291.4 L912.6 272.6 L913.0 284.0 L913.4 288.1 L913.9 276.0 L914.3 272.0 L914.7 282.8 L915.1 267.3 L915.5 265.0 L916.0 273.7 L916.5 272.3 L917.0 276.0 L917.5 293.6 L918.0 285.0 L918.5 292.1 L919.0 283.0 L919.5 295.3 L920.0 288.5 L920.5 300.8 L921.0 300.0 L921.4 316.6 L921.8 317.0 L922.2 315.6 L922.6 298.0 L923.1 304.1 L923.5 288.0 L924.0 292.0 L924.5 293.0 L924.9 273.9 L925.4 280.0 L925.8 280.7 L926.3 268.3 L926.7 267.0 L927.1 283.8 L927.6 274.3 L928.0 278.0 L928.5 287.5 L929.0 287.0 L929.5 294.7 L930.0 276.3 L930.5 280.0 L931.0 291.4 L931.5 270.6 L932.0 275.0 L933.0 438.0 L933.7 235.0 L934.2 256.6 L934.6 258.0 L935.0 277.1 L935.5 270.0 L935.9 276.7 L936.3 257.3 L936.7 266.0 L937.1 274.1 L937.6 262.0 L938.0 260.0 L938.5 276.0 L939.0 282.0 L939.5 291.7 L940.0 282.3 L940.5 287.0 L940.9 306.1 L941.3 293.0 L941.7 305.0 L942.2 305.1 L942.8 285.0 L943.2 289.4 L943.6 267.6 L944.0 268.0 L944.5 273.1 L945.0 251.9 L945.5 267.1 L946.0 256.0 L946.5 258.5 L947.0 240.9 L947.5 253.5 L948.0 246.0 L948.4 259.1 L948.9 252.0 L949.3 255.0 L949.7 270.4 L950.1 249.6 L950.5 262.0 L951.0 270.1 L951.5 251.9 L952.0 262.0 L952.5 272.1 L953.0 256.0 L953.5 272.1 L954.0 262.0 L954.5 276.0 L955.0 280.0 L955.5 273.1 L956.0 250.0 L956.4 258.1 L956.7 240.0 L957.1 244.6 L957.5 227.0 L957.9 239.6 L958.3 226.0 L958.8 235.4 L959.2 215.6 L959.7 215.0 L960.2 234.6 L960.7 228.0 L961.2 240.6 L961.7 237.0 L962.2 247.6 L962.6 242.0 L963.0 254.6 L963.5 247.0 L964.0 259.1 L964.5 245.0 L965.0 258.0 L965.5 255.0 L966.0 251.5 L966.5 238.0 L967.0 241.6 L967.5 225.0 L967.9 233.7 L968.4 229.3 L968.8 236.0 L969.2 249.1 L969.6 226.9 L970.0 245.0 L970.4 258.8 L970.9 246.5 L971.3 264.3 L971.7 260.0 L972.1 269.8 L972.6 243.3 L973.0 250.0 L973.5 254.1 L974.0 242.0 L974.5 243.7 L974.9 229.3 L975.4 232.0 L975.8 242.8 L976.3 212.2 L976.7 225.0 L977.1 231.1 L977.6 205.9 L978.0 219.0 L978.5 222.0 L979.0 215.0 L979.4 225.6 L979.9 199.9 L980.3 212.5 L980.7 205.0 L981.2 207.5 L981.6 189.9 L982.0 202.5 L982.5 195.0 L983.0 202.1 L983.5 187.0 L984.0 192.0 L984.5 204.4 L985.0 184.6 L985.5 190.0 L985.9 192.4 L986.4 181.6 L986.8 182.0 L987.2 192.8 L987.6 177.3 L988.0 175.0 L988.4 181.0 L988.9 171.0 L989.3 178.0 L989.7 188.7 L990.1 173.3 L990.5 180.0 L991.0 186.1 L991.5 172.0 L991.9 184.1 L992.3 170.0 L992.8 321.0 L993.5 133.7 L993.9 159.4 L994.3 175.0 L994.6 195.6 L995.0 190.0 L995.4 194.0 L995.9 177.9 L996.3 187.0 L996.7 191.4 L997.1 179.6 L997.5 185.0 L998.0 198.1 L998.5 189.0 L999.0 200.0 L999.5 209.1 L1000.0 192.0 L1000.5 196.6 L1001.0 185.0 L1001.4 201.8 L1001.9 182.3 L1002.3 196.0 L1002.7 204.0 L1003.1 196.0 L1003.5 205.0 L1004.0 225.6 L1004.5 220.0 L1005.0 239.1 L1005.5 232.0 L1005.9 240.7 L1006.4 219.3 L1006.8 228.0 L1007.2 240.1 L1007.6 215.9 L1008.0 225.0 L1008.4 241.7 L1008.9 232.3 L1009.3 245.0 L1009.7 260.7 L1010.1 250.3 L1010.5 262.0 L1011.0 274.6 L1011.5 267.0 L1012.0 278.6 L1012.5 270.0 L1012.9 265.1 L1013.3 240.0 L1013.6 232.5 L1014.0 215.0 L1014.4 232.5 L1014.8 240.0 L1015.2 259.1 L1015.7 262.0 L1016.2 269.5 L1016.7 267.0 L1017.2 274.1 L1017.7 265.0 L1018.2 289.1 L1018.7 287.0 L1019.2 306.6 L1019.6 300.0 L1019.6 674.6 Z" fill="url(#grn)" stroke="none"/>
<path d="M57.6 542.8 L58.0 530.0 L58.4 542.8 L58.7 534.9 L59.1 534.9 L59.5 534.9 L60.1 534.9 L60.8 534.9 L61.2 545.0 L61.8 534.9 L62.3 534.9 L62.7 534.9 L63.2 534.9 L63.6 534.9 L64.2 534.9 L64.6 526.0 L65.0 510.0 L65.4 526.0 L65.4 524.8 L65.8 524.8 L66.3 524.8 L66.9 524.8 L67.4 514.7 L68.0 474.5 L68.5 504.7 L69.1 504.7 L69.5 504.7 L69.6 506.7 L70.0 495.0 L70.4 506.7 L70.6 514.8 L71.1 484.5 L71.7 514.8 L72.1 484.5 L72.8 514.8 L73.3 524.8 L73.8 504.7 L74.2 504.7 L74.6 501.0 L75.0 485.0 L75.4 501.0 L75.9 514.8 L76.5 514.8 L77.0 514.7 L77.5 524.8 L78.0 514.7 L78.5 534.9 L78.6 529.0 L79.0 500.0 L79.4 529.0 L79.6 534.9 L80.0 534.9 L80.6 545.0 L81.0 534.9 L81.5 534.9 L81.6 539.3 L82.0 505.0 L82.1 545.0 L82.5 556.0 L82.9 545.0 L83.0 534.9 L83.6 524.8 L84.1 524.8 L84.5 524.8 L85.1 514.7 L85.6 514.7 L85.6 511.0 L86.0 495.0 L86.4 511.0 L86.8 514.8 L87.4 529.9 L88.0 514.8 L88.6 514.8 L89.1 514.8 L89.5 484.5 L89.6 509.2 L90.0 490.0 L90.4 509.2 L90.5 514.8 L91.0 514.8 L91.5 474.5 L92.1 514.8 L92.6 514.8 L93.0 504.7 L93.5 504.7 L93.9 474.5 L94.4 514.8 L94.6 493.0 L95.0 470.0 L95.4 493.0 L95.7 504.7 L96.2 504.7 L96.7 504.7 L97.3 494.6 L97.7 484.5 L98.3 484.5 L98.8 474.5 L99.3 484.5 L99.6 478.0 L100.0 441.0 L100.4 478.0 L100.5 484.5 L101.1 494.6 L101.5 484.5 L102.0 464.4 L102.5 464.4 L102.6 467.8 L103.0 450.0 L103.4 467.8 L103.7 464.4 L104.4 464.4 L104.6 461.0 L105.0 440.0 L105.4 461.0 L105.7 454.3 L106.1 444.3 L106.6 404.0 L106.6 444.6 L107.0 420.0 L107.4 444.6 L107.7 424.1 L107.8 420.0 L108.2 365.5 L108.6 420.0 L108.7 424.1 L109.2 414.1 L109.8 424.1 L110.2 424.1 L110.6 414.3 L111.0 395.0 L111.4 414.3 L111.7 434.2 L112.2 434.2 L112.6 434.2 L113.2 414.1 L113.6 414.1 L114.2 424.1 L114.3 429.5 L114.7 365.5 L115.1 429.5 L115.3 444.3 L115.7 444.3 L116.4 424.1 L116.8 424.1 L117.3 414.1 L117.6 429.3 L118.0 400.0 L118.4 429.3 L118.7 414.1 L119.2 414.1 L119.8 434.2 L120.3 414.1 L120.6 419.3 L121.0 390.0 L121.4 419.3 L121.7 414.1 L122.1 414.1 L122.6 424.1 L123.2 414.0 L123.6 409.3 L124.0 395.0 L124.4 409.3 L124.5 414.0 L125.0 414.0 L125.5 404.0 L126.0 414.1 L126.6 404.0 L127.0 404.0 L127.1 422.7 L127.5 342.0 L127.9 422.7 L128.1 424.1 L128.5 424.1 L129.0 424.1 L129.4 424.1 L129.9 424.1 L130.1 417.7 L130.5 395.0 L130.9 417.7 L130.9 424.1 L131.5 414.1 L131.9 414.0 L132.5 404.0 L132.9 414.0 L133.5 404.0 L133.6 396.0 L134.0 325.0 L134.4 396.0 L134.6 383.8 L135.2 404.0 L135.6 414.1 L135.6 416.0 L136.0 385.0 L136.4 416.0 L136.6 424.1 L137.2 434.2 L137.6 448.4 L138.0 400.0 L138.4 448.4 L138.6 454.3 L139.2 444.3 L139.6 470.1 L140.0 440.0 L140.4 470.1 L140.9 484.5 L141.4 474.5 L141.6 479.8 L142.0 445.0 L142.4 479.8 L142.4 484.5 L142.8 484.5 L143.4 484.5 L144.0 484.5 L144.6 464.4 L144.6 476.0 L145.0 442.0 L145.4 476.0 L145.6 474.5 L146.0 444.3 L146.5 474.5 L147.0 474.5 L147.4 444.3 L148.1 464.4 L148.5 464.4 L148.9 464.4 L149.4 474.5 L149.6 468.0 L150.0 457.0 L150.4 468.0 L150.4 474.5 L150.9 474.5 L151.4 464.4 L151.8 484.5 L152.4 494.6 L152.9 484.5 L153.5 494.6 L154.0 494.6 L154.5 494.6 L154.6 481.0 L155.0 470.0 L155.4 481.0 L155.5 494.6 L156.1 494.6 L156.6 484.5 L157.2 494.6 L157.7 494.6 L158.1 509.7 L158.8 484.5 L159.3 484.5 L159.6 493.0 L160.0 455.0 L160.4 493.0 L160.4 494.6 L161.0 504.7 L161.4 504.7 L161.9 494.6 L162.4 504.7 L162.9 484.5 L163.3 514.8 L163.9 494.6 L164.5 514.8 L165.1 514.8 L165.6 515.0 L166.0 522.0 L166.4 515.0 L166.5 514.8 L166.9 514.8 L167.5 514.8 L168.0 494.6 L168.4 504.7 L168.9 504.7 L169.5 494.6 L170.0 484.5 L170.6 474.5 L171.1 484.5 L171.5 474.5 L171.9 484.5 L172.5 484.5 L173.0 504.7 L173.3 492.2 L173.7 446.0 L174.1 492.2 L174.2 494.6 L174.6 514.8 L175.2 514.8 L175.8 504.7 L176.3 494.6 L176.9 504.7 L177.4 504.7 L177.9 504.7 L178.4 494.6 L178.9 494.6 L179.5 504.7 L179.6 495.6 L180.0 480.0 L180.4 495.6 L180.4 504.7 L181.0 504.7 L181.4 504.7 L181.9 504.7 L182.3 494.6 L182.8 504.7 L183.2 494.6 L183.6 494.6 L184.1 474.5 L184.7 484.5 L185.2 474.5 L185.6 490.0 L186.0 455.0 L186.4 490.0 L186.7 484.5 L187.3 504.7 L187.8 484.5 L188.2 494.6 L188.8 484.5 L189.3 474.5 L189.6 490.0 L190.0 478.0 L190.4 490.0 L190.8 464.4 L191.4 484.5 L191.9 484.5 L192.4 474.5 L192.8 484.5 L193.4 484.5 L194.0 494.6 L194.5 484.5 L194.6 490.0 L195.0 470.0 L195.4 490.0 L195.5 494.6 L196.1 474.5 L196.5 504.7 L197.0 504.7 L197.6 484.5 L198.1 494.6 L198.7 494.6 L199.1 504.7 L199.5 504.7 L199.6 515.0 L200.0 520.0 L200.4 515.0 L200.6 484.5 L200.6 509.7 L201.0 455.0 L201.4 509.7 L201.6 494.6 L202.1 524.8 L202.7 524.8 L203.2 524.8 L203.7 524.8 L204.2 524.8 L204.6 504.3 L205.0 485.0 L205.4 504.3 L205.6 484.5 L206.2 494.6 L206.8 474.5 L207.4 494.6 L207.8 494.6 L208.3 474.5 L208.9 494.6 L209.5 494.6 L209.6 500.0 L210.0 490.0 L210.4 500.0 L210.5 494.6 L211.1 484.5 L211.5 504.7 L212.0 504.7 L212.6 494.6 L213.0 484.5 L213.5 484.5 L214.1 494.6 L214.6 464.4 L214.6 498.0 L215.0 462.0 L215.4 498.0 L215.6 484.5 L216.1 484.5 L216.6 484.5 L217.2 484.5 L217.7 484.5 L218.1 474.5 L218.5 474.5 L218.6 503.6 L219.0 520.0 L219.4 503.6 L219.5 484.5 L219.6 500.0 L220.0 475.0 L220.4 500.0 L220.7 504.7 L221.2 494.6 L221.6 494.6 L222.1 504.7 L222.6 504.7 L223.1 504.7 L223.6 504.7 L224.1 484.5 L224.6 491.7 L225.0 463.0 L225.4 491.7 L225.9 494.6 L226.4 464.4 L227.0 494.6 L227.4 494.6 L228.0 484.5 L228.4 474.5 L229.0 484.5 L229.4 484.5 L229.6 473.0 L230.0 445.0 L230.4 473.0 L230.5 484.5 L231.1 474.5 L231.6 474.5 L232.2 454.3 L232.6 483.8 L233.0 446.0 L233.4 483.8 L233.9 494.6 L234.4 494.6 L234.8 474.5 L235.3 494.6 L235.9 474.5 L236.3 474.5 L236.6 481.8 L237.0 470.0 L237.4 481.8 L237.8 454.3 L238.4 464.4 L238.8 444.3 L239.3 464.4 L239.8 454.3 L240.3 464.4 L240.8 464.4 L241.3 484.5 L241.8 474.5 L242.1 478.0 L242.5 426.0 L242.9 478.0 L243.3 484.5 L243.9 484.5 L244.4 494.6 L244.8 444.3 L245.4 474.5 L245.8 484.5 L246.3 464.4 L246.6 493.3 L247.0 455.0 L247.4 493.3 L247.9 474.5 L248.3 484.5 L248.9 484.5 L249.3 474.5 L249.6 501.3 L250.0 446.0 L250.4 501.3 L250.8 504.7 L251.3 504.7 L251.6 510.7 L252.0 522.0 L252.4 510.7 L252.4 504.7 L252.8 504.7 L253.3 504.7 L253.8 504.7 L254.2 494.6 L254.6 494.6 L255.0 494.6 L255.4 494.6 L255.6 495.4 L256.0 455.0 L256.4 495.4 L256.6 494.6 L257.2 484.5 L257.6 484.5 L258.1 474.5 L258.7 464.4 L259.2 464.4 L259.7 454.3 L260.3 464.4 L260.9 484.5 L261.5 484.5 L261.6 482.8 L262.0 445.0 L262.4 482.8 L262.6 474.5 L263.0 494.6 L263.5 494.6 L264.1 494.6 L264.6 494.6 L265.1 484.5 L265.6 496.5 L266.0 426.0 L266.4 496.5 L266.8 524.8 L267.3 534.9 L267.6 532.4 L268.0 545.0 L268.4 532.4 L268.9 524.8 L269.4 524.8 L270.0 524.8 L270.6 524.8 L271.1 524.8 L271.5 524.8 L271.6 525.2 L272.0 462.0 L272.4 525.2 L272.6 514.7 L273.1 514.7 L273.6 524.8 L274.0 514.7 L274.6 514.8 L275.0 514.8 L275.5 514.8 L275.6 513.5 L276.0 482.0 L276.4 513.5 L276.4 524.8 L277.0 514.7 L277.4 504.7 L278.0 524.8 L278.4 534.9 L279.0 514.7 L279.5 514.7 L280.0 524.8 L280.4 524.8 L280.6 541.0 L281.0 465.0 L281.4 541.0 L281.5 524.8 L281.6 539.9 L282.0 552.0 L282.4 539.9 L282.5 524.8 L283.0 514.7 L283.6 504.7 L284.1 524.8 L284.6 534.9 L285.0 524.8 L285.5 524.8 L285.9 524.8 L286.4 524.8 L287.0 514.8 L287.1 508.0 L287.5 465.0 L287.9 508.0 L288.0 514.8 L288.5 514.8 L288.9 514.8 L289.5 504.7 L290.0 514.8 L290.6 514.8 L291.0 524.8 L291.6 514.8 L292.1 514.8 L292.5 514.8 L292.6 510.5 L293.0 490.0 L293.4 510.5 L293.5 534.9 L294.1 514.8 L294.5 514.8 L294.9 514.8 L295.4 504.7 L295.9 504.7 L296.4 504.7 L296.9 514.7 L297.1 522.2 L297.5 446.0 L297.9 522.2 L298.0 524.8 L298.6 524.8 L299.2 545.0 L299.7 555.0 L300.1 547.9 L300.5 562.0 L300.9 547.9 L301.3 555.0 L301.6 537.4 L302.0 470.0 L302.4 537.4 L302.9 555.0 L303.4 545.0 L304.0 545.0 L304.4 545.0 L304.6 533.1 L305.0 487.0 L305.4 533.1 L305.8 545.0 L306.4 545.0 L306.9 545.0 L307.5 545.0 L308.1 545.0 L308.1 538.0 L308.5 466.0 L308.9 538.0 L309.1 545.0 L309.7 545.0 L310.1 534.9 L310.7 534.9 L311.1 524.8 L311.7 534.9 L312.1 534.9 L312.6 534.9 L313.0 524.8 L313.6 524.8 L313.6 521.6 L314.0 500.0 L314.4 521.6 L314.7 524.8 L315.2 534.9 L315.8 534.9 L316.3 534.9 L316.7 534.9 L317.2 534.9 L317.7 545.0 L318.1 534.9 L318.6 538.5 L319.0 476.0 L319.4 538.5 L319.8 555.0 L320.4 565.1 L320.9 565.1 L321.5 555.0 L321.9 565.1 L322.4 545.0 L322.8 534.9 L323.4 534.9 L323.9 545.0 L324.4 545.0 L324.9 555.0 L325.4 555.0 L325.6 548.2 L326.0 486.0 L326.4 548.2 L326.4 534.9 L327.0 545.0 L327.6 545.0 L328.0 545.0 L328.6 545.0 L329.2 545.0 L329.7 545.0 L330.2 534.9 L330.7 545.0 L331.2 545.0 L331.7 555.0 L332.2 565.1 L332.8 555.0 L333.3 565.1 L333.9 565.1 L334.4 565.1 L334.6 552.8 L335.0 507.0 L335.4 552.8 L335.5 545.0 L335.9 555.0 L336.4 555.0 L336.8 534.9 L337.4 555.0 L338.0 545.0 L338.5 534.9 L339.0 555.0 L339.5 555.0 L339.6 542.1 L340.0 492.0 L340.4 542.1 L340.6 545.0 L341.1 540.6 L341.5 487.0 L341.9 540.6 L342.3 545.0 L342.9 545.0 L343.5 545.0 L344.0 555.0 L344.4 555.0 L344.8 555.0 L345.3 555.0 L345.7 555.0 L346.3 524.8 L346.9 555.0 L347.4 555.0 L347.6 544.9 L348.0 517.0 L348.4 544.9 L348.8 555.0 L349.2 534.9 L349.7 555.0 L350.2 555.0 L350.7 555.0 L351.3 555.0 L351.6 542.7 L352.0 496.0 L352.4 542.7 L352.8 524.8 L353.3 534.9 L353.8 524.8 L354.2 545.0 L354.8 545.0 L355.5 545.0 L356.0 545.0 L356.6 545.0 L357.0 534.9 L357.4 534.9 L357.8 545.0 L358.2 555.0 L358.8 565.1 L359.4 565.1 L359.6 548.2 L360.0 487.0 L360.4 548.2 L360.8 555.0 L361.3 555.0 L361.8 545.0 L362.4 555.0 L362.6 552.8 L363.0 572.0 L363.4 552.8 L363.7 545.0 L364.3 545.0 L364.7 545.0 L365.4 545.0 L365.6 545.5 L366.0 496.0 L366.4 545.5 L366.9 545.0 L367.5 545.0 L368.0 545.0 L368.5 534.9 L369.1 524.8 L369.6 545.0 L370.2 545.0 L370.6 540.0 L371.0 527.0 L371.4 540.0 L371.7 545.0 L372.2 545.0 L372.8 555.0 L373.3 555.0 L373.9 545.0 L374.3 545.0 L374.9 545.0 L375.4 524.8 L375.9 555.0 L376.5 555.0 L376.9 565.1 L377.5 555.0 L378.0 555.0 L378.1 559.5 L378.5 512.0 L378.9 559.5 L378.9 555.0 L379.4 555.0 L379.9 565.1 L380.5 565.1 L381.0 555.0 L381.6 565.1 L382.0 545.0 L382.5 565.1 L382.6 572.6 L383.0 592.0 L383.4 572.6 L383.5 575.2 L383.9 575.2 L384.4 575.2 L384.8 565.1 L385.4 575.2 L385.9 565.1 L386.3 555.0 L386.9 585.2 L387.5 575.2 L388.0 575.2 L388.4 575.2 L388.9 575.2 L389.4 575.2 L389.6 570.7 L390.0 515.0 L390.4 570.7 L390.8 575.2 L391.4 575.2 L391.6 574.7 L392.0 591.0 L392.4 574.7 L392.8 575.2 L393.2 575.2 L393.7 575.2 L394.3 575.2 L394.8 575.2 L395.4 575.2 L396.0 575.2 L396.5 555.0 L397.0 575.2 L397.1 569.0 L397.5 526.0 L397.9 569.0 L398.0 585.2 L398.4 585.2 L399.0 575.2 L399.6 565.1 L400.0 585.2 L400.5 585.2 L400.9 565.1 L401.4 565.1 L401.8 565.1 L402.3 565.1 L402.8 565.1 L403.4 565.1 L403.8 545.0 L404.4 565.1 L404.9 565.1 L405.5 565.1 L405.9 565.1 L406.3 555.0 L406.8 555.0 L407.3 565.1 L407.9 545.0 L408.3 545.0 L408.6 562.4 L409.0 516.0 L409.4 562.4 L409.5 565.1 L409.9 545.0 L410.4 565.1 L410.8 565.1 L411.4 565.1 L411.8 575.2 L412.4 575.2 L412.8 575.2 L413.3 575.2 L413.9 555.0 L414.4 565.1 L415.0 575.2 L415.5 565.1 L416.0 565.1 L416.4 575.2 L416.6 559.0 L417.0 590.0 L417.4 559.0 L417.9 565.1 L418.1 553.5 L418.5 516.0 L418.9 553.5 L419.0 555.0 L419.5 555.0 L420.0 555.0 L420.4 545.0 L421.0 555.0 L421.4 555.0 L421.9 555.0 L422.5 565.1 L422.6 557.8 L423.0 507.0 L423.4 557.8 L423.5 575.2 L424.0 565.1 L424.6 565.1 L425.0 555.0 L425.6 565.1 L426.1 575.2 L426.6 575.2 L427.1 575.2 L427.7 575.2 L428.2 575.2 L428.7 565.1 L429.3 555.0 L429.8 545.0 L430.3 534.9 L430.8 555.0 L431.2 585.2 L431.6 555.0 L432.2 565.1 L432.6 575.2 L432.6 564.4 L433.0 536.0 L433.4 564.4 L433.7 575.2 L434.2 575.2 L434.7 575.2 L435.1 575.2 L435.6 575.2 L436.0 575.2 L436.5 575.2 L437.0 575.2 L437.6 575.2 L438.1 565.1 L438.6 545.0 L439.0 575.2 L439.6 575.2 L440.1 575.2 L440.6 574.5 L441.0 592.0 L441.4 574.5 L441.8 575.2 L442.2 565.1 L442.8 565.1 L443.4 565.1 L443.8 565.1 L444.3 565.1 L444.7 545.0 L445.3 565.1 L445.8 585.2 L446.3 585.2 L446.6 568.7 L447.0 537.0 L447.4 568.7 L447.8 585.2 L448.3 585.2 L448.8 585.2 L449.2 585.2 L449.7 605.4 L450.1 575.2 L450.7 585.2 L451.2 565.1 L451.7 565.1 L452.1 565.1 L452.6 565.1 L453.0 545.0 L453.6 565.1 L454.0 565.1 L454.6 565.1 L455.1 534.9 L455.1 560.0 L455.5 525.0 L455.9 560.0 L456.1 585.2 L456.6 555.0 L457.2 555.0 L457.7 565.1 L458.2 565.1 L458.6 565.1 L459.2 565.1 L459.8 565.1 L460.4 534.9 L460.6 560.0 L461.0 526.0 L461.4 560.0 L461.4 545.0 L461.8 555.0 L462.4 555.0 L462.9 555.0 L463.3 545.0 L463.8 555.0 L464.3 565.1 L464.7 555.0 L465.3 575.2 L465.9 585.2 L466.3 585.2 L466.9 585.2 L467.5 585.2 L467.6 577.0 L468.0 560.0 L468.4 577.0 L468.5 585.2 L468.9 585.2 L469.5 585.2 L470.1 565.1 L470.5 565.1 L471.1 565.1 L471.6 565.1 L472.1 575.2 L472.6 565.1 L473.0 575.2 L473.5 575.2 L474.0 585.2 L474.1 584.1 L474.5 476.0 L474.6 590.0 L475.0 612.0 L475.4 590.0 L475.5 575.2 L476.0 595.3 L476.5 595.3 L477.0 595.3 L477.5 595.3 L477.6 587.5 L478.0 598.0 L478.4 587.5 L478.6 575.2 L479.1 585.2 L479.6 585.2 L479.6 581.8 L480.0 560.0 L480.4 581.8 L480.7 585.2 L481.2 585.2 L481.7 585.2 L482.1 595.3 L482.6 595.3 L483.1 595.3 L483.7 595.3 L484.1 577.5 L484.5 550.0 L484.9 577.5 L485.3 595.3 L485.7 595.3 L486.2 595.3 L486.7 585.2 L487.2 565.1 L487.7 565.1 L488.2 555.0 L488.6 555.0 L489.1 555.0 L489.6 555.0 L489.6 551.0 L490.0 540.0 L490.4 551.0 L490.7 545.0 L491.2 555.0 L491.7 545.0 L492.3 545.0 L492.9 555.0 L493.5 545.0 L493.6 551.0 L494.0 507.0 L494.4 551.0 L494.4 504.7 L494.9 545.0 L495.4 555.0 L495.6 551.0 L496.0 507.0 L496.4 551.0 L496.4 555.0 L496.9 524.8 L497.5 555.0 L497.9 565.1 L498.4 575.2 L498.6 556.0 L499.0 537.0 L499.4 556.0 L499.5 565.1 L500.1 565.1 L500.6 565.1 L501.1 565.1 L501.7 545.0 L502.3 555.0 L502.7 565.1 L503.3 545.0 L503.8 565.1 L504.3 585.2 L504.8 565.1 L505.2 565.1 L505.7 565.1 L506.2 565.1 L506.7 565.1 L507.3 565.1 L507.8 565.1 L508.1 561.0 L508.5 526.0 L508.9 561.0 L509.2 545.0 L509.7 555.0 L510.2 555.0 L510.6 545.0 L511.0 534.9 L511.5 545.0 L512.0 555.0 L512.5 545.0 L512.6 565.0 L513.0 536.0 L513.4 565.0 L513.6 555.0 L514.0 565.1 L514.4 555.0 L514.9 575.2 L515.5 555.0 L516.1 565.1 L516.7 575.2 L517.1 555.0 L517.6 565.1 L518.1 565.1 L518.5 565.1 L518.6 577.0 L519.0 592.0 L519.4 577.0 L519.4 575.2 L519.9 575.2 L520.5 585.2 L521.0 585.2 L521.5 585.2 L522.1 585.2 L522.6 585.2 L522.6 575.7 L523.0 550.0 L523.4 575.7 L523.6 575.2 L524.1 585.2 L524.7 585.2 L525.2 585.2 L525.8 575.2 L526.3 555.0 L526.8 585.2 L527.2 595.3 L527.8 595.3 L528.1 595.0 L528.5 604.0 L528.9 595.0 L529.2 595.3 L529.7 595.3 L530.3 595.3 L530.8 595.3 L531.3 595.3 L531.6 590.0 L532.0 580.0 L532.4 590.0 L532.5 595.3 L533.0 596.0 L533.3 503.0 L534.2 500.0 L534.6 470.0 L535.5 488.0 L536.2 452.0 L537.0 470.0 L538.0 436.0 L539.0 452.0 L540.0 420.0 L541.6 403.0 L542.4 382.0 L543.3 354.0 L544.3 362.0 L545.0 332.0 L545.6 345.0 L546.1 324.0 L546.7 350.0 L547.4 362.0 L548.0 332.0 L548.7 362.0 L549.5 366.0 L550.3 350.0 L551.3 336.0 L552.5 312.0 L554.0 290.0 L554.4 270.0 L555.0 230.0 L557.5 212.5 L557.9 223.1 L558.3 197.4 L558.8 218.1 L559.2 196.5 L559.6 200.0 L560.0 179.9 L560.5 143.7 L561.4 205.0 L561.7 216.6 L562.0 212.0 L562.5 254.1 L563.0 270.0 L563.5 282.1 L564.0 278.0 L564.5 282.0 L565.0 292.8 L565.5 271.3 L566.0 275.0 L566.5 290.1 L567.0 289.0 L567.5 292.0 L568.0 285.0 L568.5 281.3 L569.0 257.4 L569.5 271.8 L570.0 250.0 L570.5 259.8 L571.0 228.2 L571.5 240.0 L571.9 244.5 L572.4 222.7 L572.8 234.2 L573.3 215.5 L573.7 222.0 L574.1 224.7 L574.6 217.3 L575.0 215.0 L575.4 217.5 L575.8 207.0 L576.2 215.6 L576.7 194.9 L577.1 207.5 L577.5 200.0 L578.0 209.8 L578.5 187.3 L579.0 190.0 L579.5 199.3 L580.0 172.4 L580.5 186.8 L581.0 175.0 L581.4 184.1 L581.9 161.9 L582.3 178.0 L582.8 182.1 L583.2 160.0 L583.7 160.0 L584.0 166.0 L584.3 319.0 L584.6 170.0 L585.0 167.0 L585.5 154.0 L585.9 168.0 L586.3 172.0 L586.6 189.1 L587.0 180.0 L587.5 191.7 L588.0 177.3 L588.5 185.0 L589.0 194.0 L589.5 177.9 L590.0 197.0 L590.5 210.8 L591.0 198.5 L591.5 216.3 L592.0 212.0 L592.4 225.3 L592.9 218.5 L593.3 226.8 L593.7 225.0 L594.1 233.4 L594.6 225.6 L595.0 235.0 L595.5 235.7 L596.0 220.3 L596.5 222.0 L597.0 229.4 L597.5 210.7 L598.0 205.0 L598.4 213.4 L598.9 196.6 L599.3 215.0 L599.7 225.0 L600.1 222.0 L600.5 230.0 L601.0 241.4 L601.5 236.7 L602.0 240.0 L602.4 255.6 L602.9 239.0 L603.3 260.6 L603.7 250.0 L604.2 264.1 L604.6 252.0 L605.1 261.1 L605.5 238.9 L606.0 255.0 L606.5 271.7 L607.0 262.3 L607.5 275.0 L607.9 274.4 L608.3 257.6 L608.7 258.0 L609.1 262.7 L609.6 247.3 L610.0 242.0 L610.5 258.4 L611.0 248.7 L611.5 252.0 L612.0 259.4 L612.5 247.6 L613.0 250.0 L613.5 257.7 L614.0 255.3 L614.5 258.0 L615.0 255.4 L615.5 236.6 L616.0 235.0 L616.5 257.1 L617.0 250.0 L617.5 262.0 L618.0 274.4 L618.5 264.6 L619.0 275.0 L619.5 289.6 L620.0 288.0 L620.5 283.1 L621.0 262.0 L621.4 272.8 L621.9 242.2 L622.3 255.0 L622.8 265.4 L623.2 249.7 L623.7 247.0 L624.1 257.1 L624.6 235.0 L625.0 238.0 L625.5 242.1 L626.0 230.0 L626.5 232.4 L627.0 218.6 L627.5 222.0 L627.9 229.7 L628.3 217.3 L628.7 215.0 L629.1 218.1 L629.6 202.0 L630.0 200.0 L630.5 203.1 L631.0 180.0 L631.5 165.0 L632.0 140.0 L632.4 136.4 L632.8 119.6 L633.2 114.0 L633.8 132.6 L634.3 135.0 L634.8 142.7 L635.3 124.3 L635.6 138.2 L636.0 132.0 L636.5 143.0 L637.0 133.9 L637.5 150.0 L637.9 160.7 L638.3 145.3 L638.7 152.0 L639.1 168.4 L639.6 158.7 L640.0 162.0 L640.5 165.0 L641.0 158.0 L641.5 159.0 L642.0 150.0 L642.5 165.6 L643.0 165.0 L643.4 176.6 L643.7 172.0 L644.1 179.7 L644.6 167.3 L645.0 180.0 L645.5 193.6 L646.0 187.0 L646.5 195.7 L647.0 174.3 L647.5 183.0 L647.9 190.1 L648.3 168.0 L648.7 165.0 L649.0 186.6 L649.4 182.0 L649.7 195.1 L650.0 192.0 L650.4 206.4 L650.9 191.6 L651.3 196.0 L651.7 211.1 L652.1 204.0 L652.5 217.0 L653.0 216.6 L653.5 200.0 L653.9 203.1 L654.4 174.9 L654.8 185.0 L655.2 188.7 L655.6 173.3 L656.0 172.0 L656.4 183.4 L656.9 163.6 L657.3 182.0 L657.8 198.4 L658.2 182.6 L658.7 192.0 L659.1 199.7 L659.6 191.3 L660.0 200.0 L660.5 207.5 L661.0 205.0 L661.4 201.7 L661.9 188.3 L662.3 180.0 L662.8 176.7 L663.2 153.3 L663.7 155.0 L664.1 166.7 L664.6 155.3 L665.0 160.0 L665.5 174.1 L666.0 162.0 L666.5 163.6 L667.0 145.0 L667.4 160.4 L667.9 139.6 L668.3 152.0 L668.7 167.1 L669.1 150.0 L669.6 166.1 L670.0 160.0 L670.5 155.0 L671.0 140.0 L671.4 142.8 L671.9 126.5 L672.3 124.3 L672.8 146.0 L673.2 131.4 L673.7 150.0 L674.1 157.0 L674.6 148.0 L675.0 156.0 L675.5 167.1 L676.0 162.0 L676.5 175.1 L677.0 172.0 L677.5 189.5 L678.0 197.0 L678.4 193.0 L678.9 173.0 L679.3 170.0 L679.7 174.8 L680.1 147.3 L680.5 145.0 L681.0 158.1 L681.5 155.0 L682.0 163.5 L682.5 162.0 L683.0 163.7 L683.5 152.3 L684.0 152.0 L684.5 159.6 L685.0 141.0 L685.5 152.6 L686.0 142.0 L686.5 146.5 L687.0 141.0 L687.4 153.8 L687.9 143.5 L688.3 162.3 L688.7 152.0 L689.1 158.1 L689.6 128.9 L690.0 140.0 L690.5 140.1 L691.0 124.0 L691.4 131.0 L691.9 128.0 L692.3 130.0 L692.8 140.1 L693.3 118.0 L693.8 121.0 L694.2 130.1 L694.6 119.0 L695.0 118.0 L695.5 119.7 L696.0 101.3 L696.5 108.0 L696.9 108.4 L697.3 92.8 L697.7 94.2 L698.2 108.1 L698.8 112.0 L699.3 123.1 L699.8 114.0 L700.2 130.1 L700.6 123.0 L701.0 132.0 L701.4 139.7 L701.9 137.3 L702.3 140.0 L702.6 154.6 L703.0 143.0 L703.4 159.1 L703.7 155.0 L704.2 168.0 L704.6 155.9 L705.0 187.1 L705.5 187.0 L706.0 205.4 L706.5 197.6 L707.0 212.0 L707.5 229.5 L708.0 237.0 L708.5 242.6 L709.0 222.0 L709.5 224.5 L710.0 217.0 L710.5 216.6 L711.0 190.0 L711.4 179.7 L711.9 153.3 L712.3 144.0 L712.6 167.0 L713.0 180.0 L713.4 199.1 L713.7 192.0 L714.1 199.4 L714.6 170.6 L715.0 175.0 L715.5 202.5 L716.0 220.0 L716.4 221.0 L716.9 212.0 L717.3 208.0 L717.8 208.7 L718.2 184.2 L718.7 195.0 L719.1 207.4 L719.6 203.6 L720.0 217.0 L720.4 230.4 L720.9 202.6 L721.3 218.0 L721.7 229.4 L722.1 214.6 L722.5 222.0 L723.0 241.6 L723.5 235.0 L724.0 254.1 L724.5 247.0 L725.0 252.8 L725.5 222.3 L726.0 225.0 L726.5 222.5 L727.0 210.0 L727.5 207.5 L728.0 195.0 L728.5 211.1 L729.0 207.0 L729.5 217.0 L730.0 217.0 L730.4 226.1 L730.9 209.0 L731.3 205.0 L731.7 209.7 L732.1 183.2 L732.5 195.0 L733.0 204.5 L733.5 204.0 L734.0 221.1 L734.5 212.0 L735.0 218.4 L735.5 192.6 L736.0 192.0 L736.4 192.4 L736.9 176.6 L737.3 178.0 L737.8 182.7 L738.2 164.3 L738.7 162.0 L739.2 164.1 L739.8 150.0 L741.0 53.4 L741.9 180.0 L742.2 198.1 L742.6 200.0 L743.0 205.1 L743.4 190.0 L743.8 180.1 L744.2 144.0 L744.6 182.6 L745.0 195.0 L745.4 208.1 L745.7 205.0 L746.2 223.1 L746.6 215.0 L747.0 239.1 L747.5 237.0 L747.9 249.4 L748.4 230.6 L748.8 250.0 L749.2 266.4 L749.6 253.6 L750.0 260.0 L750.4 268.7 L750.9 255.3 L751.3 262.0 L751.7 272.7 L752.1 257.3 L752.5 270.0 L753.0 284.3 L753.5 275.5 L754.0 290.8 L754.5 287.0 L755.0 283.4 L755.5 257.6 L756.0 252.0 L756.5 260.4 L756.9 248.7 L757.4 247.0 L757.8 249.7 L758.3 236.3 L758.7 240.0 L759.1 245.4 L759.6 234.7 L760.0 232.0 L760.5 241.6 L761.0 225.0 L761.5 240.8 L761.9 224.3 L762.4 233.0 L762.8 240.1 L763.3 225.0 L763.7 230.0 L764.2 239.3 L764.6 207.4 L765.0 231.8 L765.5 215.0 L766.0 230.6 L766.5 226.0 L767.0 241.1 L767.5 230.0 L768.0 227.0 L768.5 246.1 L769.0 245.0 L769.5 251.7 L770.0 248.3 L770.5 250.0 L770.9 265.1 L771.3 249.9 L771.7 265.0 L772.1 266.7 L772.6 243.2 L773.0 255.0 L773.5 263.6 L774.0 252.0 L774.5 265.4 L775.0 252.6 L775.5 262.0 L775.9 275.4 L776.3 263.6 L776.7 287.0 L777.2 276.6 L777.6 250.0 L778.0 256.6 L778.5 237.0 L779.0 252.1 L779.5 238.0 L780.0 243.0 L780.4 247.8 L780.9 236.5 L781.3 250.3 L781.7 242.0 L782.2 246.6 L782.6 235.0 L783.0 236.5 L783.5 228.0 L784.0 237.8 L784.5 221.5 L785.0 228.3 L785.5 215.0 L785.9 224.4 L786.3 208.6 L786.7 228.0 L787.1 237.4 L787.6 227.6 L788.0 232.0 L788.4 241.1 L788.9 218.0 L789.3 220.0 L789.7 226.4 L790.1 201.6 L790.5 215.0 L791.0 219.0 L791.5 207.0 L792.0 212.0 L792.5 215.3 L793.0 205.5 L793.5 214.8 L794.0 205.0 L794.5 212.6 L795.0 194.0 L795.5 205.6 L796.0 195.0 L796.5 205.6 L797.0 174.9 L797.5 195.6 L798.0 185.0 L798.5 195.5 L799.0 196.0 L799.4 212.1 L799.7 202.0 L800.1 209.4 L800.6 187.6 L801.0 185.0 L801.5 203.1 L802.0 189.0 L802.5 200.0 L803.0 212.1 L803.5 192.9 L804.0 212.0 L804.5 220.4 L804.9 212.6 L805.4 222.0 L805.8 237.1 L806.3 226.0 L806.7 237.0 L807.1 251.4 L807.6 230.6 L808.0 250.0 L808.5 263.1 L809.0 260.0 L809.5 262.0 L809.9 238.9 L810.3 256.0 L810.8 248.0 L811.2 254.1 L811.6 241.0 L812.1 255.1 L812.5 240.0 L813.0 244.5 L813.4 233.0 L813.8 248.6 L814.3 238.0 L814.7 244.8 L815.1 216.4 L815.6 233.3 L816.0 225.0 L816.5 245.1 L817.0 245.0 L817.5 255.0 L818.0 255.0 L818.4 261.0 L818.9 251.0 L819.3 258.0 L819.7 271.1 L820.1 253.9 L820.5 267.0 L820.9 282.8 L821.3 266.3 L821.7 275.0 L822.1 290.8 L822.6 280.3 L823.0 283.0 L823.5 293.1 L824.0 287.0 L824.5 294.7 L825.0 286.3 L825.5 295.0 L825.9 301.7 L826.3 295.3 L826.7 300.0 L827.2 313.1 L827.6 290.9 L828.1 317.1 L828.5 306.0 L829.0 315.0 L829.4 324.8 L829.9 308.4 L830.3 333.3 L830.7 322.0 L831.2 337.6 L831.6 316.9 L832.0 334.5 L832.5 332.0 L833.0 342.7 L833.5 331.3 L834.0 340.0 L835.0 511.0 L835.7 235.0 L836.2 258.6 L836.6 262.0 L837.0 280.1 L837.5 282.0 L838.0 295.4 L838.5 282.6 L839.0 292.0 L839.5 306.4 L840.0 284.6 L840.5 296.0 L840.9 305.4 L841.3 292.6 L841.7 300.0 L842.2 298.1 L842.6 280.0 L843.0 281.1 L843.5 262.0 L843.9 281.6 L844.3 275.0 L844.6 286.6 L845.0 282.0 L845.5 279.1 L846.0 250.0 L846.4 240.0 L846.7 220.0 L847.2 222.8 L847.6 205.4 L848.0 226.3 L848.5 211.0 L849.0 235.5 L849.5 250.0 L850.0 270.0 L850.5 280.0 L850.9 296.4 L851.4 276.6 L851.8 290.0 L852.2 298.4 L852.6 290.6 L853.0 300.0 L853.5 305.5 L854.0 285.9 L854.5 309.6 L855.0 302.0 L855.4 308.3 L855.9 294.4 L856.3 318.8 L856.7 307.0 L857.1 315.1 L857.6 291.0 L858.0 292.0 L858.5 293.6 L859.0 275.0 L859.5 290.6 L860.0 290.0 L860.5 308.1 L861.0 300.0 L861.5 315.1 L862.0 301.0 L862.5 306.0 L863.0 319.1 L863.5 306.0 L864.0 315.0 L864.5 329.1 L864.9 306.9 L865.4 318.0 L865.8 330.4 L866.3 322.7 L866.7 325.0 L867.2 331.3 L867.6 315.5 L868.0 324.8 L868.5 318.0 L869.0 319.8 L869.5 298.5 L870.0 298.3 L870.5 285.0 L870.9 301.7 L871.3 305.3 L871.7 320.0 L872.1 331.4 L872.6 323.6 L873.0 330.0 L873.5 338.5 L874.0 337.0 L874.5 349.1 L875.0 335.0 L875.5 343.0 L875.9 349.4 L876.4 332.6 L876.8 332.0 L877.2 342.8 L877.6 327.3 L878.0 325.0 L878.4 335.1 L878.9 303.9 L879.3 316.0 L879.7 318.0 L880.1 299.9 L880.5 307.0 L880.9 314.7 L881.4 287.2 L881.8 300.0 L882.2 306.4 L882.6 281.6 L883.0 295.0 L883.4 306.4 L883.9 291.7 L884.3 290.0 L884.7 300.1 L885.1 268.9 L885.5 281.0 L885.9 293.1 L886.4 268.9 L886.8 278.0 L887.2 284.1 L887.6 263.9 L888.0 272.0 L888.4 278.7 L888.9 254.2 L889.3 268.0 L889.7 275.1 L890.1 255.9 L890.5 265.0 L890.9 275.4 L891.4 259.6 L891.8 272.0 L892.2 281.1 L892.6 271.0 L893.0 275.0 L893.5 282.7 L894.0 267.3 L894.5 268.0 L894.9 276.5 L895.4 254.7 L895.8 273.3 L896.3 258.6 L896.7 260.0 L897.2 265.1 L897.6 251.0 L898.0 256.0 L898.5 248.0 L899.0 252.8 L899.5 238.5 L900.0 246.3 L900.5 235.0 L900.9 243.7 L901.3 236.3 L901.7 246.0 L902.1 262.1 L902.6 252.0 L903.0 255.0 L903.4 266.4 L903.9 245.6 L904.3 250.0 L904.7 256.4 L905.1 243.6 L905.5 245.0 L906.0 258.8 L906.5 231.2 L907.0 247.0 L907.5 251.7 L908.0 246.3 L908.5 246.0 L909.0 262.1 L909.5 262.0 L910.0 278.6 L910.5 275.0 L910.9 286.7 L911.4 278.3 L911.8 280.0 L912.2 291.4 L912.6 272.6 L913.0 284.0 L913.4 288.1 L913.9 276.0 L914.3 272.0 L914.7 282.8 L915.1 267.3 L915.5 265.0 L916.0 273.7 L916.5 272.3 L917.0 276.0 L917.5 293.6 L918.0 285.0 L918.5 292.1 L919.0 283.0 L919.5 295.3 L920.0 288.5 L920.5 300.8 L921.0 300.0 L921.4 316.6 L921.8 317.0 L922.2 315.6 L922.6 298.0 L923.1 304.1 L923.5 288.0 L924.0 292.0 L924.5 293.0 L924.9 273.9 L925.4 280.0 L925.8 280.7 L926.3 268.3 L926.7 267.0 L927.1 283.8 L927.6 274.3 L928.0 278.0 L928.5 287.5 L929.0 287.0 L929.5 294.7 L930.0 276.3 L930.5 280.0 L931.0 291.4 L931.5 270.6 L932.0 275.0 L933.0 438.0 L933.7 235.0 L934.2 256.6 L934.6 258.0 L935.0 277.1 L935.5 270.0 L935.9 276.7 L936.3 257.3 L936.7 266.0 L937.1 274.1 L937.6 262.0 L938.0 260.0 L938.5 276.0 L939.0 282.0 L939.5 291.7 L940.0 282.3 L940.5 287.0 L940.9 306.1 L941.3 293.0 L941.7 305.0 L942.2 305.1 L942.8 285.0 L943.2 289.4 L943.6 267.6 L944.0 268.0 L944.5 273.1 L945.0 251.9 L945.5 267.1 L946.0 256.0 L946.5 258.5 L947.0 240.9 L947.5 253.5 L948.0 246.0 L948.4 259.1 L948.9 252.0 L949.3 255.0 L949.7 270.4 L950.1 249.6 L950.5 262.0 L951.0 270.1 L951.5 251.9 L952.0 262.0 L952.5 272.1 L953.0 256.0 L953.5 272.1 L954.0 262.0 L954.5 276.0 L955.0 280.0 L955.5 273.1 L956.0 250.0 L956.4 258.1 L956.7 240.0 L957.1 244.6 L957.5 227.0 L957.9 239.6 L958.3 226.0 L958.8 235.4 L959.2 215.6 L959.7 215.0 L960.2 234.6 L960.7 228.0 L961.2 240.6 L961.7 237.0 L962.2 247.6 L962.6 242.0 L963.0 254.6 L963.5 247.0 L964.0 259.1 L964.5 245.0 L965.0 258.0 L965.5 255.0 L966.0 251.5 L966.5 238.0 L967.0 241.6 L967.5 225.0 L967.9 233.7 L968.4 229.3 L968.8 236.0 L969.2 249.1 L969.6 226.9 L970.0 245.0 L970.4 258.8 L970.9 246.5 L971.3 264.3 L971.7 260.0 L972.1 269.8 L972.6 243.3 L973.0 250.0 L973.5 254.1 L974.0 242.0 L974.5 243.7 L974.9 229.3 L975.4 232.0 L975.8 242.8 L976.3 212.2 L976.7 225.0 L977.1 231.1 L977.6 205.9 L978.0 219.0 L978.5 222.0 L979.0 215.0 L979.4 225.6 L979.9 199.9 L980.3 212.5 L980.7 205.0 L981.2 207.5 L981.6 189.9 L982.0 202.5 L982.5 195.0 L983.0 202.1 L983.5 187.0 L984.0 192.0 L984.5 204.4 L985.0 184.6 L985.5 190.0 L985.9 192.4 L986.4 181.6 L986.8 182.0 L987.2 192.8 L987.6 177.3 L988.0 175.0 L988.4 181.0 L988.9 171.0 L989.3 178.0 L989.7 188.7 L990.1 173.3 L990.5 180.0 L991.0 186.1 L991.5 172.0 L991.9 184.1 L992.3 170.0 L992.8 321.0 L993.5 133.7 L993.9 159.4 L994.3 175.0 L994.6 195.6 L995.0 190.0 L995.4 194.0 L995.9 177.9 L996.3 187.0 L996.7 191.4 L997.1 179.6 L997.5 185.0 L998.0 198.1 L998.5 189.0 L999.0 200.0 L999.5 209.1 L1000.0 192.0 L1000.5 196.6 L1001.0 185.0 L1001.4 201.8 L1001.9 182.3 L1002.3 196.0 L1002.7 204.0 L1003.1 196.0 L1003.5 205.0 L1004.0 225.6 L1004.5 220.0 L1005.0 239.1 L1005.5 232.0 L1005.9 240.7 L1006.4 219.3 L1006.8 228.0 L1007.2 240.1 L1007.6 215.9 L1008.0 225.0 L1008.4 241.7 L1008.9 232.3 L1009.3 245.0 L1009.7 260.7 L1010.1 250.3 L1010.5 262.0 L1011.0 274.6 L1011.5 267.0 L1012.0 278.6 L1012.5 270.0 L1012.9 265.1 L1013.3 240.0 L1013.6 232.5 L1014.0 215.0 L1014.4 232.5 L1014.8 240.0 L1015.2 259.1 L1015.7 262.0 L1016.2 269.5 L1016.7 267.0 L1017.2 274.1 L1017.7 265.0 L1018.2 289.1 L1018.7 287.0 L1019.2 306.6 L1019.6 300.0" fill="none" stroke="url(#ln)" stroke-width="1.35" stroke-linejoin="miter" stroke-miterlimit="3"/>
<line x1="1019.6" y1="300" x2="1019.6" y2="675" stroke="url(#ln)" stroke-width="1"/>
<g>
<rect x="57.6" y="632" width="962.7" height="1" fill="#000" fill-opacity="0.12"/>
<rect x="57.6" y="590" width="962.7" height="1" fill="#000" fill-opacity="0.12"/>
<rect x="57.6" y="548" width="962.7" height="1" fill="#000" fill-opacity="0.12"/>
<rect x="57.6" y="507" width="962.7" height="1" fill="#000" fill-opacity="0.12"/>
<rect x="57.6" y="465" width="962.7" height="1" fill="#000" fill-opacity="0.12"/>
<rect x="57.6" y="423" width="962.7" height="1" fill="#000" fill-opacity="0.12"/>
<rect x="57.6" y="381" width="962.7" height="1" fill="#000" fill-opacity="0.12"/>
<rect x="57.6" y="339" width="962.7" height="1" fill="#000" fill-opacity="0.12"/>
<rect x="57.6" y="297" width="962.7" height="1" fill="#000" fill-opacity="0.12"/>
<rect x="57.6" y="255" width="962.7" height="1" fill="#000" fill-opacity="0.12"/>
<rect x="57.6" y="213" width="962.7" height="1" fill="#000" fill-opacity="0.12"/>
<rect x="57.6" y="171" width="962.7" height="1" fill="#000" fill-opacity="0.12"/>
<rect x="57.6" y="130" width="962.7" height="1" fill="#000" fill-opacity="0.12"/>
<rect x="57.6" y="88" width="962.7" height="1" fill="#000" fill-opacity="0.12"/>
<rect x="57.6" y="46" width="962.7" height="1" fill="#000" fill-opacity="0.12"/>
<rect x="57.6" y="4" width="962.7" height="1" fill="#000" fill-opacity="0.12"/>
</g>
</g>
<g opacity="0.999">
<rect x="55.8" y="3.6" width="1.9" height="672.2" fill="#000"/>
<rect x="55.8" y="674.0" width="964.9" height="1.8" fill="#000"/>
<rect x="51.8" y="673.90" width="4.5" height="1.6" fill="#000"/>
<text x="46.4" y="679.1" text-anchor="end" class="t">-8</text>
<rect x="51.8" y="632.00" width="4.5" height="1.6" fill="#000"/>
<text x="46.4" y="637.2" text-anchor="end" class="t">-6</text>
<rect x="51.8" y="590.10" width="4.5" height="1.6" fill="#000"/>
<text x="46.4" y="595.3" text-anchor="end" class="t">-4</text>
<rect x="51.8" y="548.20" width="4.5" height="1.6" fill="#000"/>
<text x="46.4" y="553.4" text-anchor="end" class="t">-2</text>
<rect x="51.8" y="506.30" width="4.5" height="1.6" fill="#000"/>
<text x="46.4" y="511.5" text-anchor="end" class="t">0</text>
<rect x="51.8" y="464.40" width="4.5" height="1.6" fill="#000"/>
<text x="46.4" y="469.6" text-anchor="end" class="t">2</text>
<rect x="51.8" y="422.50" width="4.5" height="1.6" fill="#000"/>
<text x="46.4" y="427.7" text-anchor="end" class="t">4</text>
<rect x="51.8" y="380.60" width="4.5" height="1.6" fill="#000"/>
<text x="46.4" y="385.8" text-anchor="end" class="t">6</text>
<rect x="51.8" y="338.70" width="4.5" height="1.6" fill="#000"/>
<text x="46.4" y="343.9" text-anchor="end" class="t">8</text>
<rect x="51.8" y="296.80" width="4.5" height="1.6" fill="#000"/>
<text x="46.4" y="302.0" text-anchor="end" class="t">10</text>
<rect x="51.8" y="254.90" width="4.5" height="1.6" fill="#000"/>
<text x="46.4" y="260.1" text-anchor="end" class="t">12</text>
<rect x="51.8" y="213.00" width="4.5" height="1.6" fill="#000"/>
<text x="46.4" y="218.2" text-anchor="end" class="t">14</text>
<rect x="51.8" y="171.10" width="4.5" height="1.6" fill="#000"/>
<text x="46.4" y="176.3" text-anchor="end" class="t">16</text>
<rect x="51.8" y="129.20" width="4.5" height="1.6" fill="#000"/>
<text x="46.4" y="134.4" text-anchor="end" class="t">18</text>
<rect x="51.8" y="87.30" width="4.5" height="1.6" fill="#000"/>
<text x="46.4" y="92.5" text-anchor="end" class="t">20</text>
<rect x="51.8" y="45.40" width="4.5" height="1.6" fill="#000"/>
<text x="46.4" y="50.6" text-anchor="end" class="t">22</text>
<rect x="51.8" y="3.50" width="4.5" height="1.6" fill="#000"/>
<text x="46.4" y="13.0" text-anchor="end" class="t">24</text>
<rect x="55.70" y="675" width="1.6" height="4.2" fill="#000"/>
<text x="54.1" y="692.7" text-anchor="middle" class="t">0.0</text>
<rect x="109.34" y="675" width="1.6" height="4.2" fill="#000"/>
<text x="107.7" y="692.7" text-anchor="middle" class="t">2.5</text>
<rect x="162.98" y="675" width="1.6" height="4.2" fill="#000"/>
<text x="161.4" y="692.7" text-anchor="middle" class="t">5.0</text>
<rect x="216.62" y="675" width="1.6" height="4.2" fill="#000"/>
<text x="215.0" y="692.7" text-anchor="middle" class="t">7.5</text>
<rect x="270.26" y="675" width="1.6" height="4.2" fill="#000"/>
<text x="268.7" y="692.7" text-anchor="middle" class="t">10.0</text>
<rect x="323.90" y="675" width="1.6" height="4.2" fill="#000"/>
<text x="322.3" y="692.7" text-anchor="middle" class="t">12.5</text>
<rect x="377.54" y="675" width="1.6" height="4.2" fill="#000"/>
<text x="375.9" y="692.7" text-anchor="middle" class="t">15.0</text>
<rect x="431.18" y="675" width="1.6" height="4.2" fill="#000"/>
<text x="429.6" y="692.7" text-anchor="middle" class="t">17.5</text>
<rect x="484.82" y="675" width="1.6" height="4.2" fill="#000"/>
<text x="483.2" y="692.7" text-anchor="middle" class="t">20.0</text>
<rect x="538.46" y="675" width="1.6" height="4.2" fill="#000"/>
<text x="536.9" y="692.7" text-anchor="middle" class="t">22.5</text>
<rect x="592.10" y="675" width="1.6" height="4.2" fill="#000"/>
<text x="590.5" y="692.7" text-anchor="middle" class="t">25.0</text>
<rect x="645.74" y="675" width="1.6" height="4.2" fill="#000"/>
<text x="644.1" y="692.7" text-anchor="middle" class="t">27.5</text>
<rect x="699.38" y="675" width="1.6" height="4.2" fill="#000"/>
<text x="697.8" y="692.7" text-anchor="middle" class="t">30.0</text>
<rect x="753.02" y="675" width="1.6" height="4.2" fill="#000"/>
<text x="751.4" y="692.7" text-anchor="middle" class="t">32.5</text>
<rect x="806.66" y="675" width="1.6" height="4.2" fill="#000"/>
<text x="805.1" y="692.7" text-anchor="middle" class="t">35.0</text>
<rect x="860.30" y="675" width="1.6" height="4.2" fill="#000"/>
<text x="858.7" y="692.7" text-anchor="middle" class="t">37.5</text>
<rect x="913.94" y="675" width="1.6" height="4.2" fill="#000"/>
<text x="912.3" y="692.7" text-anchor="middle" class="t">40.0</text>
<rect x="967.58" y="675" width="1.6" height="4.2" fill="#000"/>
<text x="966.0" y="692.7" text-anchor="middle" class="t">42.5</text>
<rect x="1019.2" y="675" width="1.6" height="4.2" fill="#000"/>
<text x="1018.6" y="692.7" text-anchor="end" class="t">44.9</text>
<text x="484.5" y="712.8" class="t">Odległość</text>
<text x="555.4" y="712.8" class="t" style="letter-spacing:0.45px">(km)</text>
<text transform="translate(16.3 385.6) rotate(-90)" class="t" style="letter-spacing:0.15px">Wysokość (m)</text>
</g>
</svg>
</body>
</html>
